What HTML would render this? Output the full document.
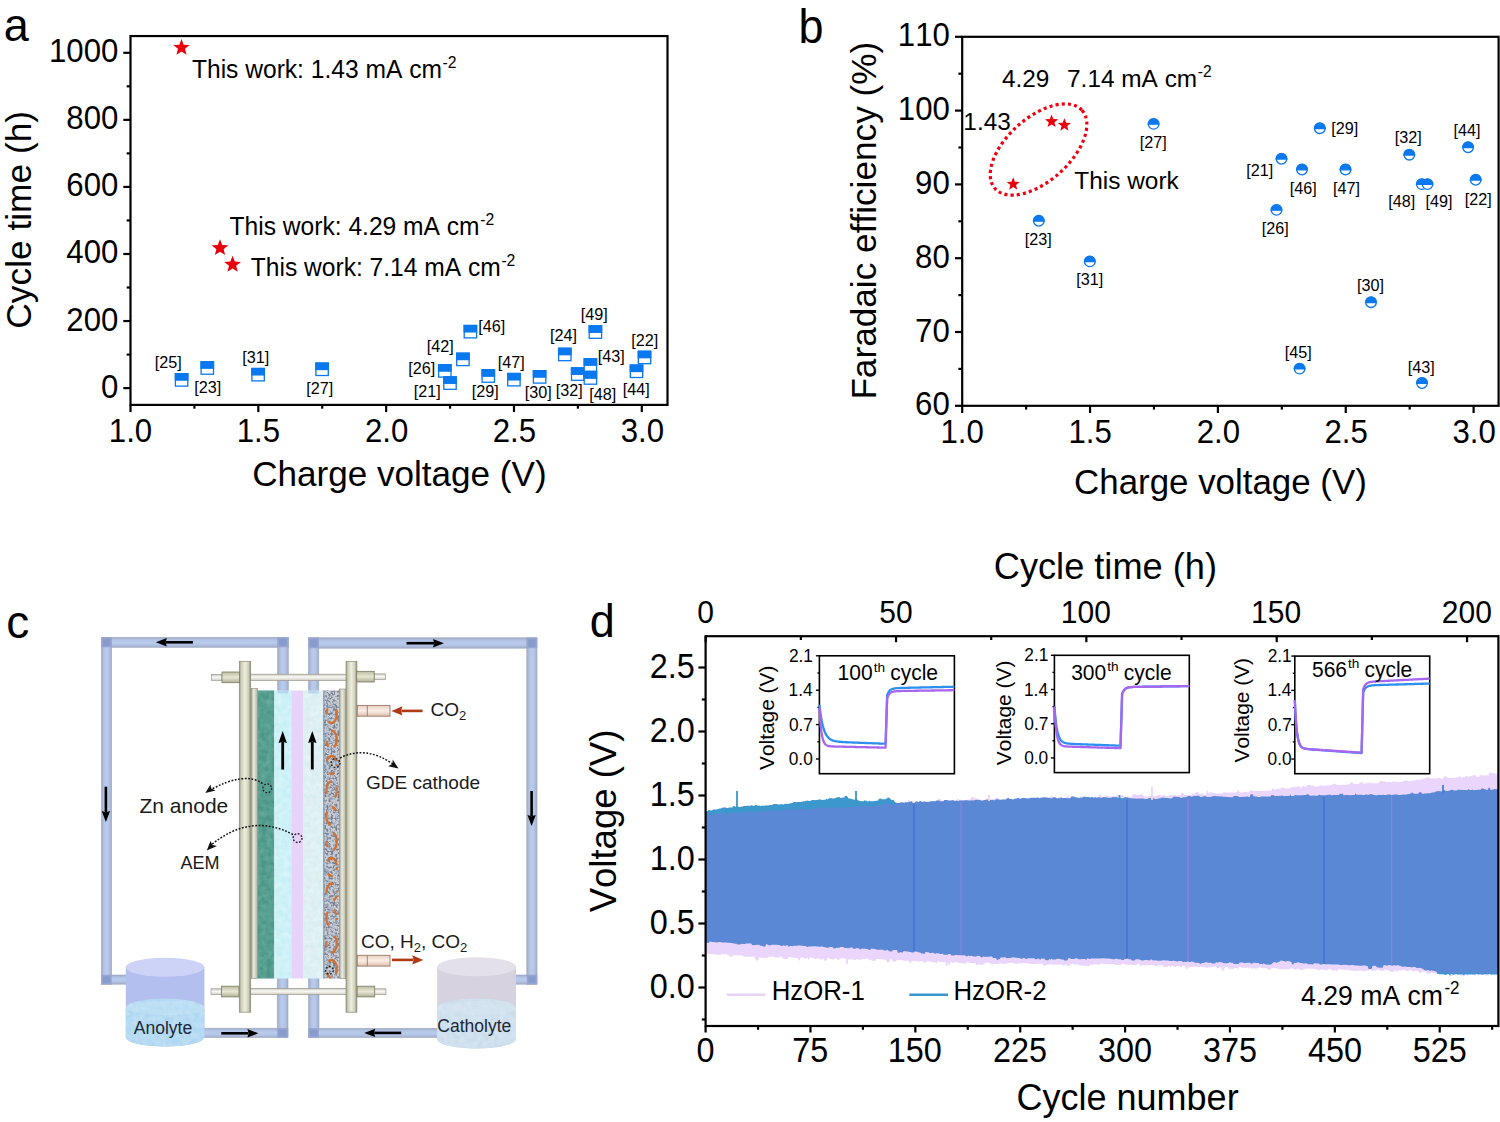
<!DOCTYPE html>
<html><head><meta charset="utf-8"><style>
html,body{margin:0;padding:0;background:#fff;overflow:hidden;}
svg{display:block;font-family:"Liberation Sans", sans-serif;font-kerning:none;}
</style></head><body>
<svg width="1500" height="1122" viewBox="0 0 1500 1122">
<rect width="1500" height="1122" fill="#fff"/>
<defs>
<linearGradient id="plate" x1="0" x2="1" y1="0" y2="0">
 <stop offset="0" stop-color="#9c9c86"/><stop offset="0.18" stop-color="#cfcfba"/><stop offset="0.5" stop-color="#eeeee0"/><stop offset="0.8" stop-color="#cfcfba"/><stop offset="1" stop-color="#8e8e78"/>
</linearGradient>
<linearGradient id="thin" x1="0" x2="1" y1="0" y2="0">
 <stop offset="0" stop-color="#a8a898"/><stop offset="0.4" stop-color="#ebebdf"/><stop offset="1" stop-color="#b5b5a2"/>
</linearGradient>
<linearGradient id="nut" x1="0" x2="0" y1="0" y2="1">
 <stop offset="0" stop-color="#bdbda5"/><stop offset="0.5" stop-color="#e6e6d2"/><stop offset="1" stop-color="#b0b098"/>
</linearGradient>
<linearGradient id="rod" x1="0" x2="0" y1="0" y2="1">
 <stop offset="0" stop-color="#c9c9c0"/><stop offset="0.45" stop-color="#fafaf5"/><stop offset="1" stop-color="#cfcfc5"/>
</linearGradient>
<linearGradient id="pipeH" x1="0" x2="0" y1="0" y2="1">
 <stop offset="0" stop-color="#a2adc6"/><stop offset="0.25" stop-color="#b2c2e4"/><stop offset="0.5" stop-color="#bacced"/><stop offset="0.75" stop-color="#b2c2e4"/><stop offset="1" stop-color="#a2adc6"/>
</linearGradient>
<linearGradient id="pipeV" x1="0" x2="1" y1="0" y2="0">
 <stop offset="0" stop-color="#a2adc6"/><stop offset="0.25" stop-color="#b2c2e4"/><stop offset="0.5" stop-color="#bacced"/><stop offset="0.75" stop-color="#b2c2e4"/><stop offset="1" stop-color="#a2adc6"/>
</linearGradient>
<linearGradient id="noz" x1="0" x2="0" y1="0" y2="1">
 <stop offset="0" stop-color="#e9cfc0"/><stop offset="0.5" stop-color="#fbeee6"/><stop offset="1" stop-color="#dcbfae"/>
</linearGradient>
<filter id="tex1" x="0" y="0" width="1" height="1">
 <feTurbulence type="fractalNoise" baseFrequency="0.18" numOctaves="2" seed="4" result="n"/>
 <feColorMatrix in="n" type="matrix" values="0 0 0 0 0  0 0 0 0 0  0 0 0 0 0  0 0 0 -1.3 1.0" result="a"/>
 <feComposite in="SourceGraphic" in2="a" operator="in"/>
</filter>
<filter id="speck" x="0" y="0" width="1" height="1">
 <feTurbulence type="fractalNoise" baseFrequency="0.45" numOctaves="2" seed="9" result="n"/>
 <feColorMatrix in="n" type="matrix" values="0 0 0 0 0  0 0 0 0 0  0 0 0 0 0  0 0 0 -4 2.3" result="a"/>
 <feComposite in="SourceGraphic" in2="a" operator="in"/>
</filter>
</defs>
<rect x="101.4" y="637.3" width="186.9" height="10.0" fill="url(#pipeH)" stroke="#9ea9c2" stroke-width="0.6"/>
<rect x="101.4" y="637.3" width="10.299999999999997" height="346.9000000000001" fill="url(#pipeV)" stroke="#9ea9c2" stroke-width="0.6"/>
<rect x="101.4" y="975" width="25.599999999999994" height="9.200000000000045" fill="url(#pipeH)" stroke="#9ea9c2" stroke-width="0.6"/>
<rect x="277.6" y="637.3" width="10.699999999999989" height="62.700000000000045" fill="url(#pipeV)" stroke="#9ea9c2" stroke-width="0.6"/>
<rect x="277.2" y="975" width="10.800000000000011" height="62.5" fill="url(#pipeV)" stroke="#9ea9c2" stroke-width="0.6"/>
<rect x="200" y="1028.2" width="88" height="9.299999999999955" fill="url(#pipeH)" stroke="#9ea9c2" stroke-width="0.6"/>
<rect x="101.4" y="637.3" width="10.3" height="10" fill="#95a6d2"/>
<rect x="102.9" y="638.8" width="7.300000000000001" height="7" fill="#8699ca" opacity="0.8"/>
<rect x="277.6" y="637.3" width="10.7" height="10" fill="#95a6d2"/>
<rect x="279.1" y="638.8" width="7.699999999999999" height="7" fill="#8699ca" opacity="0.8"/>
<rect x="101.4" y="975" width="10.3" height="9.2" fill="#95a6d2"/>
<rect x="102.9" y="976.5" width="7.300000000000001" height="6.199999999999999" fill="#8699ca" opacity="0.8"/>
<rect x="277.2" y="1028.2" width="10.8" height="9.3" fill="#95a6d2"/>
<rect x="278.7" y="1029.7" width="7.800000000000001" height="6.300000000000001" fill="#8699ca" opacity="0.8"/>
<rect x="308.5" y="637.8" width="228.5" height="10.400000000000091" fill="url(#pipeH)" stroke="#9ea9c2" stroke-width="0.6"/>
<rect x="526.8" y="637.8" width="10.200000000000045" height="346.4000000000001" fill="url(#pipeV)" stroke="#9ea9c2" stroke-width="0.6"/>
<rect x="512" y="975" width="25" height="9.200000000000045" fill="url(#pipeH)" stroke="#9ea9c2" stroke-width="0.6"/>
<rect x="308.5" y="637.8" width="10.300000000000011" height="62.200000000000045" fill="url(#pipeV)" stroke="#9ea9c2" stroke-width="0.6"/>
<rect x="308.5" y="975" width="10.5" height="62.5" fill="url(#pipeV)" stroke="#9ea9c2" stroke-width="0.6"/>
<rect x="308.5" y="1028.3" width="131.5" height="9.200000000000045" fill="url(#pipeH)" stroke="#9ea9c2" stroke-width="0.6"/>
<rect x="308.5" y="637.8" width="10.3" height="10.4" fill="#95a6d2"/>
<rect x="310.0" y="639.3" width="7.300000000000001" height="7.4" fill="#8699ca" opacity="0.8"/>
<rect x="526.8" y="637.8" width="10.2" height="10.4" fill="#95a6d2"/>
<rect x="528.3" y="639.3" width="7.199999999999999" height="7.4" fill="#8699ca" opacity="0.8"/>
<rect x="526.8" y="975" width="10.2" height="9.2" fill="#95a6d2"/>
<rect x="528.3" y="976.5" width="7.199999999999999" height="6.199999999999999" fill="#8699ca" opacity="0.8"/>
<rect x="308.5" y="1028.3" width="10.5" height="9.2" fill="#95a6d2"/>
<rect x="310.0" y="1029.8" width="7.5" height="6.199999999999999" fill="#8699ca" opacity="0.8"/>
<line x1="192.90" y1="642.30" x2="165.80" y2="642.30" stroke="#000" stroke-width="2.6"/>
<polygon points="155.80,642.30 166.80,638.10 165.60,642.30 166.80,646.50" fill="#000"/>
<line x1="105.90" y1="786.70" x2="105.90" y2="812.00" stroke="#000" stroke-width="2.6"/>
<polygon points="105.90,822.00 101.70,811.00 105.90,812.20 110.10,811.00" fill="#000"/>
<line x1="221.30" y1="1033.30" x2="248.40" y2="1033.30" stroke="#000" stroke-width="2.6"/>
<polygon points="258.40,1033.30 247.40,1037.50 248.60,1033.30 247.40,1029.10" fill="#000"/>
<line x1="406.50" y1="643.20" x2="434.00" y2="643.20" stroke="#000" stroke-width="2.6"/>
<polygon points="444.00,643.20 433.00,647.40 434.20,643.20 433.00,639.00" fill="#000"/>
<line x1="531.60" y1="791.00" x2="531.60" y2="816.00" stroke="#000" stroke-width="2.6"/>
<polygon points="531.60,826.00 527.40,815.00 531.60,816.20 535.80,815.00" fill="#000"/>
<line x1="401.20" y1="1032.90" x2="374.20" y2="1032.90" stroke="#000" stroke-width="2.6"/>
<polygon points="364.20,1032.90 375.20,1028.70 374.00,1032.90 375.20,1037.10" fill="#000"/>
<rect x="257.4" y="690.5" width="16.9" height="288.0" fill="#4a9587"/>
<rect x="257.4" y="690.5" width="16.9" height="288.0" fill="#8cc8b8" filter="url(#tex1)" opacity="0.55"/>
<rect x="274.3" y="690.5" width="17" height="288.0" fill="#c4eff5"/>
<rect x="274.3" y="690.5" width="17" height="288.0" fill="#eafafd" filter="url(#tex1)" opacity="0.7"/>
<rect x="291.3" y="690.5" width="12" height="288.0" fill="#e7d3fa"/>
<rect x="303.3" y="690.5" width="19.9" height="288.0" fill="#d8ecef"/>
<rect x="303.3" y="690.5" width="19.9" height="288.0" fill="#f2fbfc" filter="url(#tex1)" opacity="0.7"/>
<rect x="323.2" y="690.5" width="16.3" height="288.0" fill="#c9ced6"/>
<rect x="323.2" y="690.5" width="16.3" height="288.0" fill="#6f7889" filter="url(#speck)" opacity="0.9"/>
<rect x="323.2" y="690.5" width="1.4" height="288.0" fill="#8e9ab8" opacity="0.9"/>
<ellipse cx="331.6" cy="714.0" rx="5.2" ry="9" fill="none" stroke="#9fb4d0" stroke-width="1.3" opacity="0.6"/>
<ellipse cx="331.6" cy="714.0" rx="5.2" ry="9" fill="none" stroke="#d46a26" stroke-width="2.3" stroke-dasharray="15 7 6 12" stroke-dashoffset="0" opacity="0.9"/>
<ellipse cx="331.6" cy="739.5" rx="5.2" ry="9" fill="none" stroke="#9fb4d0" stroke-width="1.3" opacity="0.6"/>
<ellipse cx="331.6" cy="739.5" rx="5.2" ry="9" fill="none" stroke="#d46a26" stroke-width="2.3" stroke-dasharray="15 7 6 12" stroke-dashoffset="7" opacity="0.9"/>
<ellipse cx="331.6" cy="765.0" rx="5.2" ry="9" fill="none" stroke="#9fb4d0" stroke-width="1.3" opacity="0.6"/>
<ellipse cx="331.6" cy="765.0" rx="5.2" ry="9" fill="none" stroke="#d46a26" stroke-width="2.3" stroke-dasharray="15 7 6 12" stroke-dashoffset="14" opacity="0.9"/>
<ellipse cx="331.6" cy="790.5" rx="5.2" ry="9" fill="none" stroke="#9fb4d0" stroke-width="1.3" opacity="0.6"/>
<ellipse cx="331.6" cy="790.5" rx="5.2" ry="9" fill="none" stroke="#d46a26" stroke-width="2.3" stroke-dasharray="15 7 6 12" stroke-dashoffset="21" opacity="0.9"/>
<ellipse cx="331.6" cy="816.0" rx="5.2" ry="9" fill="none" stroke="#9fb4d0" stroke-width="1.3" opacity="0.6"/>
<ellipse cx="331.6" cy="816.0" rx="5.2" ry="9" fill="none" stroke="#d46a26" stroke-width="2.3" stroke-dasharray="15 7 6 12" stroke-dashoffset="28" opacity="0.9"/>
<ellipse cx="331.6" cy="841.5" rx="5.2" ry="9" fill="none" stroke="#9fb4d0" stroke-width="1.3" opacity="0.6"/>
<ellipse cx="331.6" cy="841.5" rx="5.2" ry="9" fill="none" stroke="#d46a26" stroke-width="2.3" stroke-dasharray="15 7 6 12" stroke-dashoffset="5" opacity="0.9"/>
<ellipse cx="331.6" cy="867.0" rx="5.2" ry="9" fill="none" stroke="#9fb4d0" stroke-width="1.3" opacity="0.6"/>
<ellipse cx="331.6" cy="867.0" rx="5.2" ry="9" fill="none" stroke="#d46a26" stroke-width="2.3" stroke-dasharray="15 7 6 12" stroke-dashoffset="12" opacity="0.9"/>
<ellipse cx="331.6" cy="892.5" rx="5.2" ry="9" fill="none" stroke="#9fb4d0" stroke-width="1.3" opacity="0.6"/>
<ellipse cx="331.6" cy="892.5" rx="5.2" ry="9" fill="none" stroke="#d46a26" stroke-width="2.3" stroke-dasharray="15 7 6 12" stroke-dashoffset="19" opacity="0.9"/>
<ellipse cx="331.6" cy="918.0" rx="5.2" ry="9" fill="none" stroke="#9fb4d0" stroke-width="1.3" opacity="0.6"/>
<ellipse cx="331.6" cy="918.0" rx="5.2" ry="9" fill="none" stroke="#d46a26" stroke-width="2.3" stroke-dasharray="15 7 6 12" stroke-dashoffset="26" opacity="0.9"/>
<ellipse cx="331.6" cy="943.5" rx="5.2" ry="9" fill="none" stroke="#9fb4d0" stroke-width="1.3" opacity="0.6"/>
<ellipse cx="331.6" cy="943.5" rx="5.2" ry="9" fill="none" stroke="#d46a26" stroke-width="2.3" stroke-dasharray="15 7 6 12" stroke-dashoffset="3" opacity="0.9"/>
<ellipse cx="331.6" cy="969.0" rx="5.2" ry="9" fill="none" stroke="#9fb4d0" stroke-width="1.3" opacity="0.6"/>
<ellipse cx="331.6" cy="969.0" rx="5.2" ry="9" fill="none" stroke="#d46a26" stroke-width="2.3" stroke-dasharray="15 7 6 12" stroke-dashoffset="10" opacity="0.9"/>
<rect x="277.6" y="690.5" width="10.7" height="3" fill="#a9c4e4" opacity="0.6"/>
<rect x="308.5" y="690.5" width="10.3" height="3" fill="#a9c4e4" opacity="0.6"/>
<rect x="251.2" y="688.4" width="6.2" height="290.1" fill="url(#thin)" stroke="#8c8c7c" stroke-width="0.6"/>
<rect x="339.5" y="689" width="6.4" height="289.5" fill="url(#thin)" stroke="#8c8c7c" stroke-width="0.6"/>
<rect x="250" y="674.2" width="97" height="6.2" fill="url(#rod)" stroke="#9a9a90" stroke-width="0.7"/>
<rect x="250" y="988.4" width="97" height="6.2" fill="url(#rod)" stroke="#9a9a90" stroke-width="0.7"/>
<rect x="239.3" y="661.3" width="11.4" height="350.9" fill="url(#plate)" stroke="#8a8a74" stroke-width="0.7"/>
<rect x="346" y="661.3" width="10.9" height="350.9" fill="url(#plate)" stroke="#8a8a74" stroke-width="0.7"/>
<rect x="211.3" y="674.6" width="10.699999999999989" height="5.8" fill="url(#rod)" stroke="#9a9a90" stroke-width="0.7"/>
<rect x="222" y="672.0" width="17.4" height="10.7" fill="url(#nut)" stroke="#7c7c64" stroke-width="0.8"/>
<rect x="211" y="988.8000000000001" width="10.5" height="5.8" fill="url(#rod)" stroke="#9a9a90" stroke-width="0.7"/>
<rect x="221.5" y="986.2" width="17.4" height="10.7" fill="url(#nut)" stroke="#7c7c64" stroke-width="0.8"/>
<rect x="374.2" y="673.9" width="11.2" height="5.8" fill="url(#rod)" stroke="#9a9a90" stroke-width="0.7"/>
<rect x="356.7" y="671.3" width="17.5" height="10.7" fill="url(#nut)" stroke="#7c7c64" stroke-width="0.8"/>
<rect x="374.7" y="988.8000000000001" width="11.2" height="5.8" fill="url(#rod)" stroke="#9a9a90" stroke-width="0.7"/>
<rect x="357.2" y="986.2" width="17.5" height="10.7" fill="url(#nut)" stroke="#7c7c64" stroke-width="0.8"/>
<rect x="357.3" y="705.4" width="32.7" height="10.8" fill="url(#noz)" stroke="#9c7a68" stroke-width="0.9"/>
<line x1="367.3" y1="705.4" x2="367.3" y2="716.1999999999999" stroke="#9c7a68" stroke-width="0.9"/>
<rect x="357.3" y="955.3" width="32.7" height="10.8" fill="url(#noz)" stroke="#9c7a68" stroke-width="0.9"/>
<line x1="367.3" y1="955.3" x2="367.3" y2="966.0999999999999" stroke="#9c7a68" stroke-width="0.9"/>
<line x1="422.60" y1="710.90" x2="401.40" y2="710.90" stroke="#b03a14" stroke-width="2.6"/>
<polygon points="391.40,710.90 402.40,706.30 401.20,710.90 402.40,715.50" fill="#b03a14"/>
<line x1="392.00" y1="959.90" x2="413.30" y2="959.90" stroke="#b03a14" stroke-width="2.6"/>
<polygon points="423.30,959.90 412.30,964.50 413.50,959.90 412.30,955.30" fill="#b03a14"/>
<line x1="282.70" y1="769.50" x2="282.70" y2="742.00" stroke="#000" stroke-width="2.8"/>
<polygon points="282.70,731.00 286.90,743.00 282.70,741.80 278.50,743.00" fill="#000"/>
<line x1="312.30" y1="769.50" x2="312.30" y2="742.00" stroke="#000" stroke-width="2.8"/>
<polygon points="312.30,731.00 316.50,743.00 312.30,741.80 308.10,743.00" fill="#000"/>
<circle cx="267.2" cy="788.3" r="4.4" fill="none" stroke="#222" stroke-width="1.4" stroke-dasharray="1.8 1.6"/>
<path d="M262.5,783.5 Q245,771 210,790" fill="none" stroke="#111" stroke-width="1.5" stroke-dasharray="1.8 1.6"/>
<polygon points="205.3,793 210.5,784.5 211.2,788.6 215.6,790.4" fill="#111"/>
<circle cx="297.6" cy="838.1" r="4.4" fill="none" stroke="#222" stroke-width="1.4" stroke-dasharray="1.8 1.6"/>
<path d="M293,834.5 Q250,812 210,846" fill="none" stroke="#111" stroke-width="1.5" stroke-dasharray="1.8 1.6"/>
<polygon points="206.8,850.5 210.5,841 212.4,845 217,846" fill="#111"/>
<circle cx="335.5" cy="763" r="4.4" fill="none" stroke="#222" stroke-width="1.4" stroke-dasharray="1.8 1.6"/>
<path d="M340,758 Q365,745 393,764" fill="none" stroke="#111" stroke-width="1.5" stroke-dasharray="1.8 1.6"/>
<polygon points="398.5,768.5 388.3,766.2 392.6,763.8 392.6,759.4" fill="#111"/>
<circle cx="329.4" cy="970.3" r="3.8" fill="none" stroke="#222" stroke-width="1.4" stroke-dasharray="1.8 1.6"/>
<text x="139.5" y="812.8" font-size="21" fill="#1a1a1a">Zn anode</text>
<text x="180.5" y="868.8" font-size="18" fill="#1a1a1a">AEM</text>
<text x="366" y="789.3" font-size="19" fill="#1a1a1a">GDE cathode</text>
<text x="430.5" y="716.2" font-size="19" fill="#1a1a1a">CO<tspan font-size="13" dy="4">2</tspan></text>
<text x="361" y="948.3" font-size="19" fill="#1a1a1a">CO, H<tspan font-size="13" dy="4">2</tspan><tspan dy="-4">, CO</tspan><tspan font-size="13" dy="4">2</tspan></text>
<text x="6.2" y="638" font-size="46" fill="#000">c</text>
<path d="M125.8,967.2 L125.8,1037 A39.300000000000004,9.5 0 0 0 204.4,1037 L204.4,967.2 Z" fill="#b3bfee"/>
<path d="M125.8,1008 L125.8,1037 A39.300000000000004,9.5 0 0 0 204.4,1037 L204.4,1008 A39.300000000000004,9.5 0 0 0 125.8,1008 Z" fill="#acd6f1"/>
<path d="M125.8,1008 L125.8,1037 A39.300000000000004,9.5 0 0 0 204.4,1037 L204.4,1008 A39.300000000000004,9.5 0 0 0 125.8,1008 Z" fill="#ffffff" filter="url(#tex1)" opacity="0.35"/>
<ellipse cx="165.1" cy="1008" rx="39.300000000000004" ry="7.125" fill="#c6e4f6" opacity="0.45"/>
<ellipse cx="165.1" cy="967.2" rx="39.300000000000004" ry="9.5" fill="#cdd3f6"/>
<text x="133.8" y="1033.7" font-size="17.5" fill="#1c2838">Anolyte</text>
<path d="M437.2,966.8 L437.2,1039 A39.400000000000006,9.5 0 0 0 516,1039 L516,966.8 Z" fill="#d6d2df"/>
<path d="M437.2,1008 L437.2,1039 A39.400000000000006,9.5 0 0 0 516,1039 L516,1008 A39.400000000000006,9.5 0 0 0 437.2,1008 Z" fill="#c9dcec"/>
<path d="M437.2,1008 L437.2,1039 A39.400000000000006,9.5 0 0 0 516,1039 L516,1008 A39.400000000000006,9.5 0 0 0 437.2,1008 Z" fill="#ffffff" filter="url(#tex1)" opacity="0.35"/>
<ellipse cx="476.6" cy="1008" rx="39.400000000000006" ry="7.125" fill="#d6e6f2" opacity="0.45"/>
<ellipse cx="476.6" cy="966.8" rx="39.400000000000006" ry="9.5" fill="#e3e0ea"/>
<text x="437.3" y="1031.7" font-size="17.5" fill="#1c2838">Catholyte</text>
<text transform="translate(3.69,41.10) scale(1,1.01)" font-size="45" text-anchor="start" fill="#000" >a</text>
<rect x="130.5" y="36.05" width="537.0" height="368.84999999999997" fill="none" stroke="#000" stroke-width="2.2"/>
<line x1="123.30" y1="388.10" x2="130.50" y2="388.10" stroke="#000" stroke-width="2.2" />
<text transform="translate(118.32,397.60) scale(1,1.045)" font-size="31.2" text-anchor="end" fill="#000" >0</text>
<line x1="126.70" y1="354.57" x2="130.50" y2="354.57" stroke="#000" stroke-width="2.2" />
<line x1="123.30" y1="321.04" x2="130.50" y2="321.04" stroke="#000" stroke-width="2.2" />
<text transform="translate(118.32,330.54) scale(1,1.045)" font-size="31.2" text-anchor="end" fill="#000" >200</text>
<line x1="126.70" y1="287.51" x2="130.50" y2="287.51" stroke="#000" stroke-width="2.2" />
<line x1="123.30" y1="253.98" x2="130.50" y2="253.98" stroke="#000" stroke-width="2.2" />
<text transform="translate(118.32,263.48) scale(1,1.045)" font-size="31.2" text-anchor="end" fill="#000" >400</text>
<line x1="126.70" y1="220.45" x2="130.50" y2="220.45" stroke="#000" stroke-width="2.2" />
<line x1="123.30" y1="186.92" x2="130.50" y2="186.92" stroke="#000" stroke-width="2.2" />
<text transform="translate(118.32,196.42) scale(1,1.045)" font-size="31.2" text-anchor="end" fill="#000" >600</text>
<line x1="126.70" y1="153.39" x2="130.50" y2="153.39" stroke="#000" stroke-width="2.2" />
<line x1="123.30" y1="119.86" x2="130.50" y2="119.86" stroke="#000" stroke-width="2.2" />
<text transform="translate(118.32,129.36) scale(1,1.045)" font-size="31.2" text-anchor="end" fill="#000" >800</text>
<line x1="126.70" y1="86.33" x2="130.50" y2="86.33" stroke="#000" stroke-width="2.2" />
<line x1="123.30" y1="52.80" x2="130.50" y2="52.80" stroke="#000" stroke-width="2.2" />
<text transform="translate(118.32,62.30) scale(1,1.045)" font-size="31.2" text-anchor="end" fill="#000" >1000</text>
<line x1="130.50" y1="404.90" x2="130.50" y2="412.10" stroke="#000" stroke-width="2.2" />
<text transform="translate(108.83,441.70) scale(1,1.045)" font-size="31.2" text-anchor="start" fill="#000" >1.0</text>
<line x1="194.41" y1="404.90" x2="194.41" y2="408.70" stroke="#000" stroke-width="2.2" />
<line x1="258.32" y1="404.90" x2="258.32" y2="412.10" stroke="#000" stroke-width="2.2" />
<text transform="translate(236.71,441.70) scale(1,1.045)" font-size="31.2" text-anchor="start" fill="#000" >1.5</text>
<line x1="322.24" y1="404.90" x2="322.24" y2="408.70" stroke="#000" stroke-width="2.2" />
<line x1="386.15" y1="404.90" x2="386.15" y2="412.10" stroke="#000" stroke-width="2.2" />
<text transform="translate(364.89,441.70) scale(1,1.045)" font-size="31.2" text-anchor="start" fill="#000" >2.0</text>
<line x1="450.06" y1="404.90" x2="450.06" y2="408.70" stroke="#000" stroke-width="2.2" />
<line x1="513.98" y1="404.90" x2="513.98" y2="412.10" stroke="#000" stroke-width="2.2" />
<text transform="translate(492.76,441.70) scale(1,1.045)" font-size="31.2" text-anchor="start" fill="#000" >2.5</text>
<line x1="577.89" y1="404.90" x2="577.89" y2="408.70" stroke="#000" stroke-width="2.2" />
<line x1="641.80" y1="404.90" x2="641.80" y2="412.10" stroke="#000" stroke-width="2.2" />
<text transform="translate(620.73,441.70) scale(1,1.045)" font-size="31.2" text-anchor="start" fill="#000" >3.0</text>
<text transform="translate(252.20,486.30)" font-size="35.1" text-anchor="start" fill="#000" >Charge voltage (V)</text>
<text transform="translate(30.60,219.80) rotate(-90)" font-size="35.3" text-anchor="middle" fill="#000" >Cycle time (h)</text>
<rect x="175.40" y="373.70" width="12.40" height="12.40" fill="#fff" stroke="#0a78ee" stroke-width="1.3"/>
<rect x="175.40" y="373.70" width="12.40" height="6.40" fill="#0a78ee" stroke="#0a78ee" stroke-width="1.3"/>
<rect x="201.10" y="361.80" width="12.40" height="12.40" fill="#fff" stroke="#0a78ee" stroke-width="1.3"/>
<rect x="201.10" y="361.80" width="12.40" height="6.40" fill="#0a78ee" stroke="#0a78ee" stroke-width="1.3"/>
<rect x="251.90" y="368.50" width="12.40" height="12.40" fill="#fff" stroke="#0a78ee" stroke-width="1.3"/>
<rect x="251.90" y="368.50" width="12.40" height="6.40" fill="#0a78ee" stroke="#0a78ee" stroke-width="1.3"/>
<rect x="315.90" y="363.10" width="12.40" height="12.40" fill="#fff" stroke="#0a78ee" stroke-width="1.3"/>
<rect x="315.90" y="363.10" width="12.40" height="6.40" fill="#0a78ee" stroke="#0a78ee" stroke-width="1.3"/>
<rect x="438.60" y="364.70" width="12.40" height="12.40" fill="#fff" stroke="#0a78ee" stroke-width="1.3"/>
<rect x="438.60" y="364.70" width="12.40" height="6.40" fill="#0a78ee" stroke="#0a78ee" stroke-width="1.3"/>
<rect x="443.80" y="376.90" width="12.40" height="12.40" fill="#fff" stroke="#0a78ee" stroke-width="1.3"/>
<rect x="443.80" y="376.90" width="12.40" height="6.40" fill="#0a78ee" stroke="#0a78ee" stroke-width="1.3"/>
<rect x="456.70" y="353.20" width="12.40" height="12.40" fill="#fff" stroke="#0a78ee" stroke-width="1.3"/>
<rect x="456.70" y="353.20" width="12.40" height="6.40" fill="#0a78ee" stroke="#0a78ee" stroke-width="1.3"/>
<rect x="464.20" y="325.50" width="12.40" height="12.40" fill="#fff" stroke="#0a78ee" stroke-width="1.3"/>
<rect x="464.20" y="325.50" width="12.40" height="6.40" fill="#0a78ee" stroke="#0a78ee" stroke-width="1.3"/>
<rect x="482.10" y="369.80" width="12.40" height="12.40" fill="#fff" stroke="#0a78ee" stroke-width="1.3"/>
<rect x="482.10" y="369.80" width="12.40" height="6.40" fill="#0a78ee" stroke="#0a78ee" stroke-width="1.3"/>
<rect x="507.70" y="373.50" width="12.40" height="12.40" fill="#fff" stroke="#0a78ee" stroke-width="1.3"/>
<rect x="507.70" y="373.50" width="12.40" height="6.40" fill="#0a78ee" stroke="#0a78ee" stroke-width="1.3"/>
<rect x="533.40" y="370.70" width="12.40" height="12.40" fill="#fff" stroke="#0a78ee" stroke-width="1.3"/>
<rect x="533.40" y="370.70" width="12.40" height="6.40" fill="#0a78ee" stroke="#0a78ee" stroke-width="1.3"/>
<rect x="558.60" y="348.30" width="12.40" height="12.40" fill="#fff" stroke="#0a78ee" stroke-width="1.3"/>
<rect x="558.60" y="348.30" width="12.40" height="6.40" fill="#0a78ee" stroke="#0a78ee" stroke-width="1.3"/>
<rect x="571.50" y="367.90" width="12.40" height="12.40" fill="#fff" stroke="#0a78ee" stroke-width="1.3"/>
<rect x="571.50" y="367.90" width="12.40" height="6.40" fill="#0a78ee" stroke="#0a78ee" stroke-width="1.3"/>
<rect x="584.20" y="358.80" width="12.40" height="12.40" fill="#fff" stroke="#0a78ee" stroke-width="1.3"/>
<rect x="584.20" y="358.80" width="12.40" height="6.40" fill="#0a78ee" stroke="#0a78ee" stroke-width="1.3"/>
<rect x="584.20" y="371.80" width="12.40" height="12.40" fill="#fff" stroke="#0a78ee" stroke-width="1.3"/>
<rect x="584.20" y="371.80" width="12.40" height="6.40" fill="#0a78ee" stroke="#0a78ee" stroke-width="1.3"/>
<rect x="589.20" y="325.90" width="12.40" height="12.40" fill="#fff" stroke="#0a78ee" stroke-width="1.3"/>
<rect x="589.20" y="325.90" width="12.40" height="6.40" fill="#0a78ee" stroke="#0a78ee" stroke-width="1.3"/>
<rect x="630.30" y="365.10" width="12.40" height="12.40" fill="#fff" stroke="#0a78ee" stroke-width="1.3"/>
<rect x="630.30" y="365.10" width="12.40" height="6.40" fill="#0a78ee" stroke="#0a78ee" stroke-width="1.3"/>
<rect x="638.30" y="351.30" width="12.40" height="12.40" fill="#fff" stroke="#0a78ee" stroke-width="1.3"/>
<rect x="638.30" y="351.30" width="12.40" height="6.40" fill="#0a78ee" stroke="#0a78ee" stroke-width="1.3"/>
<text transform="translate(154.85,367.50) scale(1,1.045)" font-size="16.2" text-anchor="start" fill="#000" >[25]</text>
<text transform="translate(194.35,392.50) scale(1,1.045)" font-size="16.2" text-anchor="start" fill="#000" >[23]</text>
<text transform="translate(242.35,362.70) scale(1,1.045)" font-size="16.2" text-anchor="start" fill="#000" >[31]</text>
<text transform="translate(306.35,394.10) scale(1,1.045)" font-size="16.2" text-anchor="start" fill="#000" >[27]</text>
<text transform="translate(408.15,373.70) scale(1,1.045)" font-size="16.2" text-anchor="start" fill="#000" >[26]</text>
<text transform="translate(413.85,397.00) scale(1,1.045)" font-size="16.2" text-anchor="start" fill="#000" >[21]</text>
<text transform="translate(426.85,352.30) scale(1,1.045)" font-size="16.2" text-anchor="start" fill="#000" >[42]</text>
<text transform="translate(478.15,332.10) scale(1,1.045)" font-size="16.2" text-anchor="start" fill="#000" >[46]</text>
<text transform="translate(471.65,397.40) scale(1,1.045)" font-size="16.2" text-anchor="start" fill="#000" >[29]</text>
<text transform="translate(497.75,368.10) scale(1,1.045)" font-size="16.2" text-anchor="start" fill="#000" >[47]</text>
<text transform="translate(524.85,398.00) scale(1,1.045)" font-size="16.2" text-anchor="start" fill="#000" >[30]</text>
<text transform="translate(550.05,341.10) scale(1,1.045)" font-size="16.2" text-anchor="start" fill="#000" >[24]</text>
<text transform="translate(555.65,396.10) scale(1,1.045)" font-size="16.2" text-anchor="start" fill="#000" >[32]</text>
<text transform="translate(597.65,361.60) scale(1,1.045)" font-size="16.2" text-anchor="start" fill="#000" >[43]</text>
<text transform="translate(589.25,399.90) scale(1,1.045)" font-size="16.2" text-anchor="start" fill="#000" >[48]</text>
<text transform="translate(580.85,319.60) scale(1,1.045)" font-size="16.2" text-anchor="start" fill="#000" >[49]</text>
<text transform="translate(622.85,395.20) scale(1,1.045)" font-size="16.2" text-anchor="start" fill="#000" >[44]</text>
<text transform="translate(631.25,345.70) scale(1,1.045)" font-size="16.2" text-anchor="start" fill="#000" >[22]</text>
<polygon points="181.50,39.10 183.67,44.71 189.68,45.04 185.02,48.84 186.55,54.66 181.50,51.40 176.45,54.66 177.98,48.84 173.32,45.04 179.33,44.71" fill="#e8000c"/>
<polygon points="220.00,239.20 222.22,244.94 228.37,245.28 223.60,249.17 225.17,255.12 220.00,251.78 214.83,255.12 216.40,249.17 211.63,245.28 217.78,244.94" fill="#e8000c"/>
<polygon points="232.60,255.80 234.82,261.54 240.97,261.88 236.20,265.77 237.77,271.72 232.60,268.38 227.43,271.72 229.00,265.77 224.23,261.88 230.38,261.54" fill="#e8000c"/>
<text transform="translate(191.95,78.00) scale(1,1.04)" font-size="24.6">This work: 1.43 mA cm</text>
<text transform="translate(442.60,68.16) scale(1,1.04)" font-size="15.7">-2</text>
<text transform="translate(229.55,234.70) scale(1,1.04)" font-size="24.6">This work: 4.29 mA cm</text>
<text transform="translate(480.20,224.86) scale(1,1.04)" font-size="15.7">-2</text>
<text transform="translate(250.75,275.60) scale(1,1.04)" font-size="24.6">This work: 7.14 mA cm</text>
<text transform="translate(501.40,265.76) scale(1,1.04)" font-size="15.7">-2</text>
<text transform="translate(798.60,43.00) scale(1,1.07)" font-size="45" text-anchor="start" fill="#000" >b</text>
<rect x="962.2" y="36.8" width="536.3999999999999" height="369.0" fill="none" stroke="#000" stroke-width="2.2"/>
<line x1="955.00" y1="405.80" x2="962.20" y2="405.80" stroke="#000" stroke-width="2.2" />
<text transform="translate(949.82,415.30) scale(1,1.045)" font-size="31.2" text-anchor="end" fill="#000" >60</text>
<line x1="958.40" y1="368.90" x2="962.20" y2="368.90" stroke="#000" stroke-width="2.2" />
<line x1="955.00" y1="332.00" x2="962.20" y2="332.00" stroke="#000" stroke-width="2.2" />
<text transform="translate(949.82,341.50) scale(1,1.045)" font-size="31.2" text-anchor="end" fill="#000" >70</text>
<line x1="958.40" y1="295.10" x2="962.20" y2="295.10" stroke="#000" stroke-width="2.2" />
<line x1="955.00" y1="258.20" x2="962.20" y2="258.20" stroke="#000" stroke-width="2.2" />
<text transform="translate(949.82,267.70) scale(1,1.045)" font-size="31.2" text-anchor="end" fill="#000" >80</text>
<line x1="958.40" y1="221.30" x2="962.20" y2="221.30" stroke="#000" stroke-width="2.2" />
<line x1="955.00" y1="184.40" x2="962.20" y2="184.40" stroke="#000" stroke-width="2.2" />
<text transform="translate(949.82,193.90) scale(1,1.045)" font-size="31.2" text-anchor="end" fill="#000" >90</text>
<line x1="958.40" y1="147.50" x2="962.20" y2="147.50" stroke="#000" stroke-width="2.2" />
<line x1="955.00" y1="110.60" x2="962.20" y2="110.60" stroke="#000" stroke-width="2.2" />
<text transform="translate(949.82,120.10) scale(1,1.045)" font-size="31.2" text-anchor="end" fill="#000" >100</text>
<line x1="958.40" y1="73.70" x2="962.20" y2="73.70" stroke="#000" stroke-width="2.2" />
<line x1="955.00" y1="36.80" x2="962.20" y2="36.80" stroke="#000" stroke-width="2.2" />
<text transform="translate(949.82,46.30) scale(1,1.045)" font-size="31.2" text-anchor="end" fill="#000" >110</text>
<line x1="962.20" y1="405.80" x2="962.20" y2="413.00" stroke="#000" stroke-width="2.2" />
<text transform="translate(940.53,442.60) scale(1,1.045)" font-size="31.2" text-anchor="start" fill="#000" >1.0</text>
<line x1="1026.12" y1="405.80" x2="1026.12" y2="409.60" stroke="#000" stroke-width="2.2" />
<line x1="1090.05" y1="405.80" x2="1090.05" y2="413.00" stroke="#000" stroke-width="2.2" />
<text transform="translate(1068.43,442.60) scale(1,1.045)" font-size="31.2" text-anchor="start" fill="#000" >1.5</text>
<line x1="1153.97" y1="405.80" x2="1153.97" y2="409.60" stroke="#000" stroke-width="2.2" />
<line x1="1217.90" y1="405.80" x2="1217.90" y2="413.00" stroke="#000" stroke-width="2.2" />
<text transform="translate(1196.64,442.60) scale(1,1.045)" font-size="31.2" text-anchor="start" fill="#000" >2.0</text>
<line x1="1281.83" y1="405.80" x2="1281.83" y2="409.60" stroke="#000" stroke-width="2.2" />
<line x1="1345.75" y1="405.80" x2="1345.75" y2="413.00" stroke="#000" stroke-width="2.2" />
<text transform="translate(1324.53,442.60) scale(1,1.045)" font-size="31.2" text-anchor="start" fill="#000" >2.5</text>
<line x1="1409.67" y1="405.80" x2="1409.67" y2="409.60" stroke="#000" stroke-width="2.2" />
<line x1="1473.60" y1="405.80" x2="1473.60" y2="413.00" stroke="#000" stroke-width="2.2" />
<text transform="translate(1452.53,442.60) scale(1,1.045)" font-size="31.2" text-anchor="start" fill="#000" >3.0</text>
<text transform="translate(1074.04,493.50)" font-size="34.9" text-anchor="start" fill="#000" >Charge voltage (V)</text>
<text transform="translate(876.00,220.70) rotate(-90)" font-size="35.2" text-anchor="middle" fill="#000" >Faradaic efficiency (%)</text>
<circle cx="1153.60" cy="123.90" r="5.3" fill="#fff" stroke="#0a78ee" stroke-width="1.3"/>
<path d="M1148.30,124.20 A5.3,5.3 0 0 1 1158.90,124.20 Z" fill="#0a78ee" stroke="#0a78ee" stroke-width="1.3"/>
<circle cx="1038.80" cy="220.80" r="5.3" fill="#fff" stroke="#0a78ee" stroke-width="1.3"/>
<path d="M1033.50,221.10 A5.3,5.3 0 0 1 1044.10,221.10 Z" fill="#0a78ee" stroke="#0a78ee" stroke-width="1.3"/>
<circle cx="1089.80" cy="261.40" r="5.3" fill="#fff" stroke="#0a78ee" stroke-width="1.3"/>
<path d="M1084.50,261.70 A5.3,5.3 0 0 1 1095.10,261.70 Z" fill="#0a78ee" stroke="#0a78ee" stroke-width="1.3"/>
<circle cx="1319.80" cy="128.20" r="5.3" fill="#fff" stroke="#0a78ee" stroke-width="1.3"/>
<path d="M1314.50,128.50 A5.3,5.3 0 0 1 1325.10,128.50 Z" fill="#0a78ee" stroke="#0a78ee" stroke-width="1.3"/>
<circle cx="1281.50" cy="158.80" r="5.3" fill="#fff" stroke="#0a78ee" stroke-width="1.3"/>
<path d="M1276.20,159.10 A5.3,5.3 0 0 1 1286.80,159.10 Z" fill="#0a78ee" stroke="#0a78ee" stroke-width="1.3"/>
<circle cx="1302.00" cy="169.50" r="5.3" fill="#fff" stroke="#0a78ee" stroke-width="1.3"/>
<path d="M1296.70,169.80 A5.3,5.3 0 0 1 1307.30,169.80 Z" fill="#0a78ee" stroke="#0a78ee" stroke-width="1.3"/>
<circle cx="1345.50" cy="169.50" r="5.3" fill="#fff" stroke="#0a78ee" stroke-width="1.3"/>
<path d="M1340.20,169.80 A5.3,5.3 0 0 1 1350.80,169.80 Z" fill="#0a78ee" stroke="#0a78ee" stroke-width="1.3"/>
<circle cx="1276.50" cy="209.90" r="5.3" fill="#fff" stroke="#0a78ee" stroke-width="1.3"/>
<path d="M1271.20,210.20 A5.3,5.3 0 0 1 1281.80,210.20 Z" fill="#0a78ee" stroke="#0a78ee" stroke-width="1.3"/>
<circle cx="1409.30" cy="154.70" r="5.3" fill="#fff" stroke="#0a78ee" stroke-width="1.3"/>
<path d="M1404.00,155.00 A5.3,5.3 0 0 1 1414.60,155.00 Z" fill="#0a78ee" stroke="#0a78ee" stroke-width="1.3"/>
<circle cx="1468.10" cy="147.20" r="5.3" fill="#fff" stroke="#0a78ee" stroke-width="1.3"/>
<path d="M1462.80,147.50 A5.3,5.3 0 0 1 1473.40,147.50 Z" fill="#0a78ee" stroke="#0a78ee" stroke-width="1.3"/>
<circle cx="1421.80" cy="184.10" r="5.3" fill="#fff" stroke="#0a78ee" stroke-width="1.3"/>
<path d="M1416.50,184.40 A5.3,5.3 0 0 1 1427.10,184.40 Z" fill="#0a78ee" stroke="#0a78ee" stroke-width="1.3"/>
<circle cx="1427.50" cy="184.10" r="5.3" fill="#fff" stroke="#0a78ee" stroke-width="1.3"/>
<path d="M1422.20,184.40 A5.3,5.3 0 0 1 1432.80,184.40 Z" fill="#0a78ee" stroke="#0a78ee" stroke-width="1.3"/>
<circle cx="1475.70" cy="179.80" r="5.3" fill="#fff" stroke="#0a78ee" stroke-width="1.3"/>
<path d="M1470.40,180.10 A5.3,5.3 0 0 1 1481.00,180.10 Z" fill="#0a78ee" stroke="#0a78ee" stroke-width="1.3"/>
<circle cx="1371.00" cy="302.20" r="5.3" fill="#fff" stroke="#0a78ee" stroke-width="1.3"/>
<path d="M1365.70,302.50 A5.3,5.3 0 0 1 1376.30,302.50 Z" fill="#0a78ee" stroke="#0a78ee" stroke-width="1.3"/>
<circle cx="1299.60" cy="368.60" r="5.3" fill="#fff" stroke="#0a78ee" stroke-width="1.3"/>
<path d="M1294.30,368.90 A5.3,5.3 0 0 1 1304.90,368.90 Z" fill="#0a78ee" stroke="#0a78ee" stroke-width="1.3"/>
<circle cx="1422.00" cy="383.00" r="5.3" fill="#fff" stroke="#0a78ee" stroke-width="1.3"/>
<path d="M1416.70,383.30 A5.3,5.3 0 0 1 1427.30,383.30 Z" fill="#0a78ee" stroke="#0a78ee" stroke-width="1.3"/>
<text transform="translate(1139.65,147.80) scale(1,1.045)" font-size="16.2" text-anchor="start" fill="#000" >[27]</text>
<text transform="translate(1024.85,245.10) scale(1,1.045)" font-size="16.2" text-anchor="start" fill="#000" >[23]</text>
<text transform="translate(1076.35,285.30) scale(1,1.045)" font-size="16.2" text-anchor="start" fill="#000" >[31]</text>
<text transform="translate(1331.15,133.90) scale(1,1.045)" font-size="16.2" text-anchor="start" fill="#000" >[29]</text>
<text transform="translate(1246.35,175.70) scale(1,1.045)" font-size="16.2" text-anchor="start" fill="#000" >[21]</text>
<text transform="translate(1289.65,193.60) scale(1,1.045)" font-size="16.2" text-anchor="start" fill="#000" >[46]</text>
<text transform="translate(1332.95,193.60) scale(1,1.045)" font-size="16.2" text-anchor="start" fill="#000" >[47]</text>
<text transform="translate(1261.65,233.60) scale(1,1.045)" font-size="16.2" text-anchor="start" fill="#000" >[26]</text>
<text transform="translate(1394.75,142.80) scale(1,1.045)" font-size="16.2" text-anchor="start" fill="#000" >[32]</text>
<text transform="translate(1453.55,135.60) scale(1,1.045)" font-size="16.2" text-anchor="start" fill="#000" >[44]</text>
<text transform="translate(1388.15,206.90) scale(1,1.045)" font-size="16.2" text-anchor="start" fill="#000" >[48]</text>
<text transform="translate(1425.45,206.90) scale(1,1.045)" font-size="16.2" text-anchor="start" fill="#000" >[49]</text>
<text transform="translate(1464.85,205.10) scale(1,1.045)" font-size="16.2" text-anchor="start" fill="#000" >[22]</text>
<text transform="translate(1357.05,291.00) scale(1,1.045)" font-size="16.2" text-anchor="start" fill="#000" >[30]</text>
<text transform="translate(1284.65,357.60) scale(1,1.045)" font-size="16.2" text-anchor="start" fill="#000" >[45]</text>
<text transform="translate(1407.85,372.60) scale(1,1.045)" font-size="16.2" text-anchor="start" fill="#000" >[43]</text>
<ellipse cx="1038.55" cy="149.5" rx="58.5" ry="31.5" transform="rotate(-42 1038.55 149.5)" fill="none" stroke="#ee0010" stroke-width="3.2" stroke-dasharray="3.1 3.1"/>
<polygon points="1013.20,177.20 1014.94,181.70 1019.76,181.97 1016.02,185.02 1017.26,189.68 1013.20,187.07 1009.14,189.68 1010.38,185.02 1006.64,181.97 1011.46,181.70" fill="#e8000c"/>
<polygon points="1051.60,114.60 1053.34,119.10 1058.16,119.37 1054.42,122.42 1055.66,127.08 1051.60,124.47 1047.54,127.08 1048.78,122.42 1045.04,119.37 1049.86,119.10" fill="#e8000c"/>
<polygon points="1064.40,118.20 1066.14,122.70 1070.96,122.97 1067.22,126.02 1068.46,130.68 1064.40,128.07 1060.34,130.68 1061.58,126.02 1057.84,122.97 1062.66,122.70" fill="#e8000c"/>
<text transform="translate(963.34,130.20)" font-size="24.4" text-anchor="start" fill="#000" >1.43</text>
<text transform="translate(1001.94,86.90)" font-size="24.4" text-anchor="start" fill="#000" >4.29</text>
<text transform="translate(1067.05,86.90)" font-size="24.4" text-anchor="start" fill="#000" >7.14</text>
<text transform="translate(1121.28,86.90)" font-size="24.4" text-anchor="start" fill="#000" >mA cm</text>
<text transform="translate(1197.81,77.00)" font-size="15.6" text-anchor="start" fill="#000" >-2</text>
<text transform="translate(1074.35,189.10) scale(1,1.01)" font-size="24.4" text-anchor="start" fill="#000" >This work</text>
<text transform="translate(589.71,637.40) scale(1,1.043)" font-size="45" text-anchor="start" fill="#000" >d</text>
<clipPath id="dclip"><rect x="705.6" y="636.2" width="792.8000000000001" height="389.79999999999995"/></clipPath>
<g clip-path="url(#dclip)">
<polygon points="705.6,814.6 706.6,814.2 707.6,814.6 708.6,814.3 709.6,814.2 710.6,813.3 711.5,814.3 712.5,814.3 713.5,813.3 714.5,813.7 715.5,813.7 716.5,813.1 717.5,813.0 718.5,812.9 719.5,812.9 720.5,812.8 721.5,813.2 722.4,813.1 723.4,813.7 724.4,813.6 725.4,813.6 726.4,812.3 727.4,812.3 728.4,812.2 729.4,812.8 730.4,812.8 731.4,812.1 732.4,812.0 733.3,812.3 734.3,812.3 735.3,812.2 736.3,811.5 737.3,812.0 738.3,811.9 739.3,811.4 740.3,811.3 741.3,811.3 742.3,812.9 743.3,812.9 744.2,812.8 745.2,812.7 746.2,811.4 747.2,811.3 748.2,811.3 749.2,811.8 750.2,811.7 751.2,811.8 752.2,811.8 753.2,810.2 754.2,810.8 755.1,810.7 756.1,810.6 757.1,811.3 758.1,811.3 759.1,811.2 760.1,811.2 761.1,811.0 762.1,808.0 763.1,808.0 764.1,807.9 765.1,807.9 766.1,811.0 767.0,810.9 768.0,810.8 769.0,810.8 770.0,810.3 771.0,810.2 772.0,810.2 773.0,810.1 774.0,809.2 775.0,809.1 776.0,809.0 777.0,810.5 777.9,810.4 778.9,810.4 779.9,810.2 780.9,810.1 781.9,810.1 782.9,810.0 783.9,808.8 784.9,808.8 785.9,808.7 786.9,808.6 787.9,808.6 788.8,807.5 789.8,808.3 790.8,808.2 791.8,808.1 792.8,808.1 793.8,809.2 794.8,809.2 795.8,809.1 796.8,809.3 797.8,809.2 798.8,809.2 799.7,806.9 800.7,808.4 801.7,809.1 802.7,809.1 803.7,809.0 804.7,809.0 805.7,807.2 806.7,807.1 807.7,808.4 808.7,808.4 809.7,806.7 810.6,806.6 811.6,806.6 812.6,806.5 813.6,807.1 814.6,808.2 815.6,808.1 816.6,808.1 817.6,807.5 818.6,807.4 819.6,807.4 820.6,807.4 821.5,807.3 822.5,805.9 823.5,805.9 824.5,805.8 825.5,805.7 826.5,806.1 827.5,806.1 828.5,806.0 829.5,805.9 830.5,807.8 831.5,807.8 832.4,807.4 833.4,807.3 834.4,807.1 835.4,807.0 836.4,805.0 837.4,805.0 838.4,807.4 839.4,807.3 840.4,807.2 841.4,807.2 842.4,807.2 843.3,807.1 844.3,806.5 845.3,806.4 846.3,806.3 847.3,805.0 848.3,806.4 849.3,806.3 850.3,806.3 851.3,806.2 852.3,804.8 853.3,804.8 854.2,804.7 855.2,804.6 856.2,805.1 857.2,805.1 858.2,805.0 859.2,805.0 860.2,805.8 861.2,805.8 862.2,805.7 863.2,805.6 864.2,805.7 865.2,804.6 866.1,804.5 867.1,804.5 868.1,804.4 869.1,802.1 870.1,802.0 871.1,804.3 872.1,804.5 873.1,804.0 874.1,804.0 875.1,803.9 876.1,804.7 877.0,804.5 878.0,804.5 879.0,804.4 880.0,804.4 881.0,804.8 882.0,804.7 883.0,802.7 884.0,802.7 885.0,802.6 886.0,802.3 887.0,802.2 887.9,802.2 888.9,802.1 889.9,802.7 890.9,802.7 891.9,802.6 892.9,802.6 893.9,802.5 894.9,802.5 895.9,802.4 896.9,802.4 897.9,803.6 898.8,804.1 899.8,804.1 900.8,804.0 901.8,803.9 902.8,803.8 903.8,802.3 904.8,802.9 905.8,802.8 906.8,802.8 907.8,800.4 908.8,800.3 909.7,802.4 910.7,802.4 911.7,802.3 912.7,800.5 913.7,803.0 914.7,802.9 915.7,802.9 916.7,802.1 917.7,802.1 918.7,802.4 919.7,802.4 920.6,802.3 921.6,802.1 922.6,802.1 923.6,800.9 924.6,800.9 925.6,801.1 926.6,801.0 927.6,801.6 928.6,801.5 929.6,800.4 930.6,800.3 931.5,801.0 932.5,802.1 933.5,801.8 934.5,801.8 935.5,800.6 936.5,800.5 937.5,800.5 938.5,798.8 939.5,798.8 940.5,798.7 941.5,800.7 942.4,800.7 943.4,800.6 944.4,801.0 945.4,801.0 946.4,800.9 947.4,800.9 948.4,801.1 949.4,801.0 950.4,800.5 951.4,799.9 952.4,799.9 953.4,799.9 954.3,799.8 955.3,800.1 956.3,800.5 957.3,799.1 958.3,799.1 959.3,799.8 960.3,799.8 961.3,799.8 962.3,799.7 963.3,799.9 964.3,799.9 965.2,799.9 966.2,800.0 967.2,799.8 968.2,799.8 969.2,799.7 970.2,799.7 971.2,797.3 972.2,797.3 973.2,797.3 974.2,797.3 975.2,798.0 976.1,798.0 977.1,798.8 978.1,798.8 979.1,800.4 980.1,800.4 981.1,800.3 982.1,800.3 983.1,800.6 984.1,800.6 985.1,799.2 986.1,799.1 987.0,799.1 988.0,799.1 989.0,799.3 990.0,799.3 991.0,799.3 992.0,799.5 993.0,799.0 994.0,799.7 995.0,798.3 996.0,798.2 997.0,797.8 997.9,797.7 998.9,799.2 999.9,800.3 1000.9,800.3 1001.9,799.1 1002.9,799.1 1003.9,799.1 1004.9,800.1 1005.9,800.1 1006.9,798.7 1007.9,799.0 1008.8,799.0 1009.8,799.0 1010.8,799.0 1011.8,799.4 1012.8,799.3 1013.8,799.3 1014.8,799.3 1015.8,798.6 1016.8,798.6 1017.8,797.4 1018.8,797.4 1019.7,799.6 1020.7,799.6 1021.7,799.6 1022.7,799.6 1023.7,799.8 1024.7,799.8 1025.7,797.9 1026.7,797.9 1027.7,798.2 1028.7,798.2 1029.7,798.5 1030.6,798.2 1031.6,798.9 1032.6,798.9 1033.6,798.9 1034.6,798.8 1035.6,798.1 1036.6,799.2 1037.6,799.2 1038.6,799.2 1039.6,799.2 1040.6,799.2 1041.5,798.8 1042.5,798.8 1043.5,798.7 1044.5,798.7 1045.5,799.1 1046.5,799.0 1047.5,799.0 1048.5,799.0 1049.5,798.9 1050.5,796.0 1051.5,795.9 1052.5,795.9 1053.4,797.7 1054.4,797.6 1055.4,797.8 1056.4,797.7 1057.4,797.7 1058.4,797.1 1059.4,797.0 1060.4,797.0 1061.4,797.0 1062.4,798.1 1063.4,798.0 1064.3,797.6 1065.3,797.5 1066.3,797.5 1067.3,795.6 1068.3,795.6 1069.3,797.9 1070.3,797.6 1071.3,797.6 1072.3,797.5 1073.3,797.5 1074.3,797.6 1075.2,797.5 1076.2,797.8 1077.2,797.8 1078.2,797.7 1079.2,797.7 1080.2,796.0 1081.2,796.9 1082.2,796.8 1083.2,795.8 1084.2,795.8 1085.2,795.8 1086.1,796.8 1087.1,796.8 1088.1,797.5 1089.1,797.4 1090.1,797.4 1091.1,797.4 1092.1,796.6 1093.1,796.5 1094.1,797.2 1095.1,797.2 1096.1,797.2 1097.0,797.1 1098.0,796.5 1099.0,796.4 1100.0,794.4 1101.0,794.4 1102.0,796.8 1103.0,796.8 1104.0,796.8 1105.0,796.8 1106.0,795.5 1107.0,795.5 1107.9,795.5 1108.9,795.5 1109.9,796.9 1110.9,796.9 1111.9,796.5 1112.9,796.5 1113.9,796.5 1114.9,796.4 1115.9,796.1 1116.9,795.6 1117.9,795.6 1118.8,795.6 1119.8,795.6 1120.8,795.9 1121.8,795.2 1122.8,794.4 1123.8,796.6 1124.8,796.8 1125.8,796.8 1126.8,796.4 1127.8,796.4 1128.8,796.4 1129.7,796.7 1130.7,796.7 1131.7,796.7 1132.7,794.2 1133.7,794.2 1134.7,794.2 1135.7,794.2 1136.7,794.9 1137.7,794.9 1138.7,794.9 1139.7,794.9 1140.6,794.2 1141.6,794.2 1142.6,794.2 1143.6,796.3 1144.6,796.3 1145.6,796.5 1146.6,796.5 1147.6,796.5 1148.6,796.5 1149.6,795.8 1150.6,796.0 1151.6,796.5 1152.5,796.4 1153.5,796.0 1154.5,796.5 1155.5,795.8 1156.5,795.7 1157.5,795.7 1158.5,794.9 1159.5,794.9 1160.5,794.8 1161.5,796.2 1162.5,796.1 1163.4,794.0 1164.4,795.5 1165.4,795.5 1166.4,796.0 1167.4,795.9 1168.4,795.9 1169.4,795.0 1170.4,795.0 1171.4,795.0 1172.4,794.9 1173.4,794.8 1174.3,794.8 1175.3,794.8 1176.3,795.5 1177.3,795.4 1178.3,795.2 1179.3,795.2 1180.3,795.2 1181.3,792.9 1182.3,793.1 1183.3,793.1 1184.3,795.1 1185.2,795.1 1186.2,795.0 1187.2,795.0 1188.2,795.1 1189.2,795.1 1190.2,795.1 1191.2,795.0 1192.2,793.5 1193.2,793.4 1194.2,793.4 1195.2,793.4 1196.1,792.0 1197.1,792.0 1198.1,792.0 1199.1,793.9 1200.1,793.9 1201.1,793.4 1202.1,793.3 1203.1,794.4 1204.1,794.4 1205.1,794.4 1206.1,794.3 1207.0,790.5 1208.0,790.4 1209.0,794.1 1210.0,792.2 1211.0,792.2 1212.0,792.1 1213.0,793.2 1214.0,793.2 1215.0,793.1 1216.0,793.1 1217.0,793.7 1217.9,793.7 1218.9,793.6 1219.9,793.6 1220.9,793.4 1221.9,793.3 1222.9,793.3 1223.9,792.0 1224.9,792.5 1225.9,792.4 1226.9,792.4 1227.9,792.3 1228.8,793.1 1229.8,792.5 1230.8,792.4 1231.8,792.4 1232.8,792.6 1233.8,792.5 1234.8,792.5 1235.8,792.3 1236.8,792.3 1237.8,790.4 1238.8,790.3 1239.7,792.5 1240.7,792.4 1241.7,792.4 1242.7,792.5 1243.7,791.8 1244.7,791.8 1245.7,791.7 1246.7,791.7 1247.7,792.4 1248.7,792.4 1249.7,790.7 1250.7,790.5 1251.6,790.4 1252.6,791.0 1253.6,791.0 1254.6,790.9 1255.6,790.8 1256.6,790.9 1257.6,790.8 1258.6,790.7 1259.6,791.0 1260.6,790.9 1261.6,790.8 1262.5,791.1 1263.5,791.0 1264.5,790.8 1265.5,790.8 1266.5,790.7 1267.5,790.6 1268.5,790.7 1269.5,790.6 1270.5,790.5 1271.5,790.4 1272.5,788.3 1273.4,788.2 1274.4,789.9 1275.4,789.8 1276.4,788.2 1277.4,789.0 1278.4,788.9 1279.4,788.8 1280.4,788.7 1281.4,787.6 1282.4,787.6 1283.4,787.5 1284.3,788.1 1285.3,788.0 1286.3,788.8 1287.3,788.7 1288.3,788.6 1289.3,788.6 1290.3,787.7 1291.3,787.6 1292.3,787.1 1293.3,787.0 1294.3,786.9 1295.2,786.8 1296.2,786.7 1297.2,786.6 1298.2,786.5 1299.2,785.4 1300.2,787.7 1301.2,787.7 1302.2,786.1 1303.2,786.0 1304.2,786.0 1305.2,787.3 1306.1,787.2 1307.1,785.0 1308.1,785.0 1309.1,784.9 1310.1,784.8 1311.1,785.7 1312.1,785.7 1313.1,785.6 1314.1,785.6 1315.1,786.8 1316.1,786.8 1317.0,786.7 1318.0,786.5 1319.0,786.4 1320.0,784.6 1321.0,785.5 1322.0,785.4 1323.0,785.4 1324.0,785.6 1325.0,785.5 1326.0,785.7 1327.0,785.6 1327.9,785.6 1328.9,786.0 1329.9,785.2 1330.9,785.1 1331.9,785.1 1332.9,783.8 1333.9,783.7 1334.9,783.7 1335.9,784.0 1336.9,785.2 1337.9,785.1 1338.8,785.2 1339.8,785.1 1340.8,785.0 1341.8,785.0 1342.8,784.6 1343.8,784.9 1344.8,784.9 1345.8,784.8 1346.8,784.8 1347.8,784.3 1348.8,784.2 1349.8,784.2 1350.7,782.3 1351.7,782.2 1352.7,782.5 1353.7,783.8 1354.7,783.8 1355.7,783.7 1356.7,784.0 1357.7,783.9 1358.7,783.9 1359.7,782.4 1360.7,782.4 1361.6,782.3 1362.6,782.1 1363.6,783.7 1364.6,783.6 1365.6,783.6 1366.6,783.5 1367.6,782.8 1368.6,782.7 1369.6,782.7 1370.6,782.6 1371.6,783.4 1372.5,783.4 1373.5,783.3 1374.5,783.3 1375.5,783.3 1376.5,783.3 1377.5,783.2 1378.5,783.1 1379.5,781.2 1380.5,781.2 1381.5,781.1 1382.5,781.1 1383.4,781.6 1384.4,781.6 1385.4,781.5 1386.4,782.2 1387.4,782.2 1388.4,782.1 1389.4,782.1 1390.4,781.9 1391.4,781.9 1392.4,781.8 1393.4,781.8 1394.3,781.2 1395.3,781.4 1396.3,781.9 1397.3,781.8 1398.3,781.8 1399.3,782.0 1400.3,782.0 1401.3,781.9 1402.3,781.8 1403.3,781.2 1404.3,780.7 1405.2,780.6 1406.2,780.5 1407.2,780.2 1408.2,781.2 1409.2,781.1 1410.2,781.0 1411.2,780.5 1412.2,780.5 1413.2,780.8 1414.2,780.7 1415.2,780.6 1416.1,779.4 1417.1,779.4 1418.1,780.0 1419.1,779.9 1420.1,779.8 1421.1,779.7 1422.1,777.6 1423.1,779.2 1424.1,779.1 1425.1,777.9 1426.1,777.5 1427.0,777.4 1428.0,777.3 1429.0,777.2 1430.0,778.6 1431.0,778.6 1432.0,778.5 1433.0,778.3 1434.0,778.3 1435.0,778.5 1436.0,778.4 1437.0,778.4 1437.9,777.8 1438.9,777.8 1439.9,777.7 1440.9,778.9 1441.9,778.9 1442.9,778.8 1443.9,776.6 1444.9,776.6 1445.9,776.5 1446.9,776.5 1447.9,778.1 1448.8,778.1 1449.8,778.0 1450.8,778.0 1451.8,777.6 1452.8,778.1 1453.8,778.0 1454.8,777.6 1455.8,777.6 1456.8,777.5 1457.8,777.4 1458.8,776.6 1459.8,776.6 1460.7,776.5 1461.7,777.4 1462.7,777.3 1463.7,777.3 1464.7,777.2 1465.7,776.0 1466.7,775.9 1467.7,776.7 1468.7,776.6 1469.7,776.5 1470.7,776.4 1471.6,775.6 1472.6,775.5 1473.6,775.3 1474.6,775.2 1475.6,775.0 1476.6,776.8 1477.6,776.8 1478.6,776.7 1479.6,776.6 1480.6,775.1 1481.6,775.0 1482.5,775.5 1483.5,775.5 1484.5,775.4 1485.5,775.3 1486.5,775.2 1487.5,775.4 1488.5,775.4 1489.5,772.3 1490.5,772.2 1491.5,773.3 1492.5,773.2 1493.4,773.2 1494.4,773.1 1495.4,773.9 1496.4,773.8 1497.4,773.7 1498.4,773.7 1498.4,975.4 1497.4,975.4 1496.4,975.3 1495.4,975.3 1494.4,974.4 1493.4,974.3 1492.5,974.3 1491.5,976.0 1490.5,974.1 1489.5,974.0 1488.5,975.7 1487.5,975.6 1486.5,975.6 1485.5,975.6 1484.5,975.1 1483.5,975.0 1482.5,975.0 1481.6,975.0 1480.6,974.1 1479.6,974.1 1478.6,974.5 1477.6,974.5 1476.6,975.3 1475.6,975.3 1474.6,975.2 1473.6,974.6 1472.6,974.4 1471.6,974.4 1470.7,974.3 1469.7,974.3 1468.7,975.4 1467.7,975.4 1466.7,975.4 1465.7,973.9 1464.7,976.1 1463.7,976.1 1462.7,976.0 1461.7,976.0 1460.7,974.9 1459.8,974.2 1458.8,974.2 1457.8,974.2 1456.8,974.2 1455.8,973.5 1454.8,973.4 1453.8,975.0 1452.8,975.0 1451.8,975.9 1450.8,975.9 1449.8,975.9 1448.8,973.6 1447.9,973.6 1446.9,973.6 1445.9,973.6 1444.9,973.4 1443.9,973.4 1442.9,973.2 1441.9,974.1 1440.9,973.5 1439.9,973.9 1438.9,973.8 1437.9,973.7 1437.0,973.7 1436.0,974.1 1435.0,973.0 1434.0,972.9 1433.0,973.2 1432.0,973.1 1431.0,973.0 1430.0,972.9 1429.0,974.0 1428.0,973.9 1427.0,973.8 1426.1,971.8 1425.1,971.7 1424.1,971.6 1423.1,971.5 1422.1,971.4 1421.1,972.9 1420.1,972.8 1419.1,972.7 1418.1,971.0 1417.1,970.9 1416.1,970.8 1415.2,970.7 1414.2,971.5 1413.2,971.4 1412.2,971.3 1411.2,970.2 1410.2,970.1 1409.2,970.0 1408.2,971.2 1407.2,971.2 1406.2,971.2 1405.2,970.5 1404.3,970.0 1403.3,970.0 1402.3,970.0 1401.3,970.6 1400.3,970.6 1399.3,970.4 1398.3,970.4 1397.3,970.4 1396.3,972.3 1395.3,970.4 1394.3,970.5 1393.4,972.0 1392.4,972.0 1391.4,972.0 1390.4,972.0 1389.4,970.8 1388.4,970.2 1387.4,970.2 1386.4,969.8 1385.4,969.8 1384.4,969.7 1383.4,971.1 1382.5,970.9 1381.5,970.0 1380.5,971.7 1379.5,969.8 1378.5,969.8 1377.5,969.8 1376.5,970.2 1375.5,970.2 1374.5,970.7 1373.5,970.7 1372.5,970.9 1371.6,970.9 1370.6,969.8 1369.6,969.8 1368.6,970.4 1367.6,970.4 1366.6,970.4 1365.6,971.2 1364.6,971.2 1363.6,971.2 1362.6,971.1 1361.6,970.5 1360.7,970.4 1359.7,970.4 1358.7,970.4 1357.7,970.4 1356.7,970.9 1355.7,970.9 1354.7,970.9 1353.7,970.9 1352.7,970.5 1351.7,970.5 1350.7,970.5 1349.8,970.5 1348.8,969.7 1347.8,969.7 1346.8,970.0 1345.8,970.0 1344.8,970.0 1343.8,969.7 1342.8,969.7 1341.8,969.3 1340.8,969.3 1339.8,969.3 1338.8,969.3 1337.9,969.3 1336.9,972.0 1335.9,969.9 1334.9,969.9 1333.9,970.7 1332.9,970.7 1331.9,970.7 1330.9,969.2 1329.9,969.1 1328.9,969.1 1327.9,969.1 1327.0,970.8 1326.0,970.0 1325.0,970.0 1324.0,970.0 1323.0,968.9 1322.0,969.9 1321.0,969.8 1320.0,969.7 1319.0,970.5 1318.0,970.4 1317.0,968.9 1316.1,968.9 1315.1,968.9 1314.1,968.9 1313.1,968.7 1312.1,968.7 1311.1,968.7 1310.1,968.7 1309.1,968.7 1308.1,968.7 1307.1,968.6 1306.1,968.6 1305.2,969.1 1304.2,969.4 1303.2,969.4 1302.2,969.9 1301.2,969.9 1300.2,969.8 1299.2,969.8 1298.2,968.6 1297.2,968.5 1296.2,970.0 1295.2,970.0 1294.3,968.9 1293.3,969.1 1292.3,968.3 1291.3,968.3 1290.3,969.1 1289.3,969.1 1288.3,969.4 1287.3,969.4 1286.3,969.3 1285.3,969.3 1284.3,969.4 1283.4,969.3 1282.4,969.3 1281.4,969.3 1280.4,968.9 1279.4,968.9 1278.4,968.9 1277.4,968.4 1276.4,968.6 1275.4,967.9 1274.4,967.9 1273.4,967.8 1272.5,968.1 1271.5,968.1 1270.5,969.9 1269.5,969.9 1268.5,969.6 1267.5,969.5 1266.5,968.0 1265.5,967.9 1264.5,968.2 1263.5,968.2 1262.5,968.1 1261.6,968.1 1260.6,967.5 1259.6,967.5 1258.6,967.5 1257.6,968.8 1256.6,968.8 1255.6,968.8 1254.6,968.7 1253.6,967.7 1252.6,968.7 1251.6,968.6 1250.7,968.6 1249.7,967.1 1248.7,968.8 1247.7,967.6 1246.7,967.6 1245.7,968.0 1244.7,967.8 1243.7,967.8 1242.7,967.8 1241.7,967.8 1240.7,966.9 1239.7,966.9 1238.8,966.9 1237.8,970.0 1236.8,968.1 1235.8,968.0 1234.8,968.0 1233.8,968.9 1232.8,968.9 1231.8,968.9 1230.8,969.2 1229.8,969.2 1228.8,969.2 1227.9,967.2 1226.9,967.1 1225.9,966.9 1224.9,966.9 1223.9,970.6 1222.9,970.6 1221.9,970.6 1220.9,967.0 1219.9,966.9 1218.9,968.2 1217.9,968.2 1217.0,968.1 1216.0,966.5 1215.0,966.5 1214.0,966.5 1213.0,966.5 1212.0,967.4 1211.0,967.3 1210.0,967.2 1209.0,967.2 1208.0,967.2 1207.0,968.4 1206.1,967.5 1205.1,967.2 1204.1,967.2 1203.1,967.1 1202.1,967.1 1201.1,967.0 1200.1,967.0 1199.1,967.0 1198.1,966.8 1197.1,966.8 1196.1,966.7 1195.2,966.7 1194.2,966.7 1193.2,966.6 1192.2,967.0 1191.2,966.9 1190.2,966.9 1189.2,967.4 1188.2,967.3 1187.2,969.1 1186.2,969.1 1185.2,965.8 1184.3,965.8 1183.3,965.7 1182.3,965.7 1181.3,967.2 1180.3,967.1 1179.3,966.3 1178.3,966.2 1177.3,966.2 1176.3,966.2 1175.3,966.9 1174.3,966.8 1173.4,966.1 1172.4,966.1 1171.4,966.0 1170.4,967.0 1169.4,965.9 1168.4,965.8 1167.4,967.0 1166.4,966.9 1165.4,966.8 1164.4,966.7 1163.4,966.7 1162.5,964.9 1161.5,964.8 1160.5,965.2 1159.5,965.2 1158.5,965.2 1157.5,966.1 1156.5,966.0 1155.5,966.0 1154.5,965.9 1153.5,964.6 1152.5,965.1 1151.6,965.0 1150.6,965.0 1149.6,965.3 1148.6,965.1 1147.6,965.0 1146.6,965.0 1145.6,965.0 1144.6,965.4 1143.6,965.4 1142.6,964.6 1141.6,966.4 1140.6,966.4 1139.7,964.3 1138.7,964.3 1137.7,964.2 1136.7,964.2 1135.7,965.0 1134.7,965.0 1133.7,965.0 1132.7,965.0 1131.7,965.0 1130.7,965.0 1129.7,964.4 1128.8,965.2 1127.8,964.8 1126.8,964.8 1125.8,964.7 1124.8,964.1 1123.8,964.1 1122.8,964.1 1121.8,964.1 1120.8,964.9 1119.8,964.9 1118.8,964.9 1117.9,964.8 1116.9,964.9 1115.9,964.9 1114.9,964.9 1113.9,964.0 1112.9,964.0 1111.9,964.0 1110.9,965.1 1109.9,963.9 1108.9,963.9 1107.9,964.0 1107.0,963.9 1106.0,964.3 1105.0,964.2 1104.0,963.8 1103.0,963.7 1102.0,963.7 1101.0,963.7 1100.0,964.5 1099.0,964.5 1098.0,964.6 1097.0,964.6 1096.1,964.6 1095.1,964.6 1094.1,964.4 1093.1,964.4 1092.1,964.9 1091.1,964.9 1090.1,964.4 1089.1,966.2 1088.1,966.2 1087.1,966.2 1086.1,966.2 1085.2,965.6 1084.2,965.7 1083.2,965.7 1082.2,965.6 1081.2,965.6 1080.2,965.6 1079.2,965.6 1078.2,964.4 1077.2,964.4 1076.2,964.4 1075.2,964.7 1074.3,964.7 1073.3,964.1 1072.3,964.0 1071.3,964.0 1070.3,964.9 1069.3,964.9 1068.3,966.2 1067.3,966.2 1066.3,963.7 1065.3,965.2 1064.3,965.2 1063.4,965.2 1062.4,965.2 1061.4,964.2 1060.4,964.2 1059.4,964.7 1058.4,964.7 1057.4,964.4 1056.4,964.4 1055.4,964.4 1054.4,964.5 1053.4,964.8 1052.5,964.5 1051.5,964.5 1050.5,964.5 1049.5,964.5 1048.5,964.7 1047.5,964.9 1046.5,964.9 1045.5,965.8 1044.5,965.8 1043.5,965.8 1042.5,963.7 1041.5,963.7 1040.6,963.6 1039.6,963.6 1038.6,963.7 1037.6,963.7 1036.6,963.7 1035.6,963.9 1034.6,963.9 1033.6,963.9 1032.6,964.0 1031.6,964.0 1030.6,964.0 1029.7,963.8 1028.7,963.7 1027.7,963.5 1026.7,963.2 1025.7,963.2 1024.7,963.1 1023.7,963.1 1022.7,963.4 1021.7,963.3 1020.7,963.2 1019.7,963.2 1018.8,963.2 1017.8,963.2 1016.8,964.0 1015.8,964.0 1014.8,963.3 1013.8,963.2 1012.8,963.2 1011.8,962.6 1010.8,963.0 1009.8,962.9 1008.8,962.8 1007.9,962.8 1006.9,963.6 1005.9,964.0 1004.9,964.0 1003.9,963.7 1002.9,963.7 1001.9,963.7 1000.9,964.2 999.9,962.6 998.9,964.2 997.9,964.2 997.0,964.1 996.0,964.1 995.0,964.1 994.0,964.0 993.0,964.0 992.0,965.4 991.0,963.5 990.0,963.5 989.0,962.4 988.0,963.2 987.0,962.5 986.1,962.5 985.1,962.5 984.1,964.5 983.1,964.5 982.1,964.5 981.1,964.4 980.1,965.3 979.1,964.3 978.1,964.5 977.1,965.3 976.1,965.2 975.2,963.1 974.2,963.3 973.2,963.3 972.2,963.2 971.2,962.9 970.2,962.9 969.2,962.9 968.2,961.9 967.2,961.9 966.2,963.4 965.2,963.4 964.3,963.4 963.3,963.4 962.3,963.3 961.3,963.3 960.3,962.9 959.3,962.9 958.3,962.9 957.3,962.0 956.3,962.0 955.3,962.0 954.3,962.8 953.4,962.7 952.4,962.7 951.4,962.0 950.4,962.0 949.4,965.1 948.4,965.1 947.4,962.2 946.4,962.2 945.4,962.2 944.4,962.1 943.4,962.1 942.4,962.0 941.5,962.0 940.5,962.0 939.5,961.6 938.5,961.6 937.5,961.6 936.5,963.9 935.5,962.4 934.5,962.3 933.5,962.0 932.5,961.9 931.5,961.9 930.6,961.4 929.6,961.5 928.6,961.5 927.6,961.4 926.6,961.4 925.6,962.5 924.6,962.5 923.6,962.2 922.6,961.4 921.6,961.3 920.6,961.3 919.7,961.3 918.7,961.4 917.7,961.4 916.7,961.3 915.7,960.8 914.7,960.7 913.7,961.1 912.7,961.0 911.7,961.0 910.7,963.0 909.7,963.0 908.8,960.8 907.8,960.8 906.8,960.8 905.8,960.7 904.8,960.5 903.8,960.5 902.8,960.5 901.8,960.4 900.8,960.1 899.8,960.1 898.8,960.0 897.9,960.0 896.9,959.7 895.9,961.8 894.9,961.6 893.9,961.6 892.9,961.5 891.9,959.6 890.9,959.5 889.9,959.5 888.9,962.6 887.9,962.6 887.0,962.6 886.0,959.8 885.0,959.7 884.0,959.7 883.0,959.6 882.0,959.3 881.0,959.3 880.0,959.2 879.0,959.1 878.0,959.1 877.0,959.1 876.1,959.4 875.1,961.0 874.1,960.9 873.1,960.9 872.1,960.8 871.1,959.6 870.1,960.2 869.1,960.2 868.1,958.8 867.1,958.7 866.1,958.7 865.2,958.7 864.2,958.9 863.2,958.8 862.2,958.8 861.2,959.8 860.2,959.7 859.2,959.7 858.2,959.4 857.2,959.3 856.2,959.3 855.2,959.9 854.2,959.9 853.3,959.6 852.3,959.6 851.3,959.6 850.3,959.5 849.3,959.6 848.3,959.6 847.3,959.6 846.3,958.6 845.3,958.6 844.3,959.1 843.3,958.1 842.4,958.1 841.4,958.1 840.4,958.4 839.4,959.8 838.4,959.8 837.4,959.8 836.4,958.6 835.4,958.6 834.4,958.6 833.4,960.6 832.4,959.0 831.5,958.9 830.5,958.9 829.5,958.9 828.5,957.7 827.5,957.7 826.5,960.7 825.5,960.7 824.5,960.7 823.5,958.3 822.5,959.6 821.5,959.6 820.6,959.5 819.6,958.6 818.6,958.6 817.6,958.6 816.6,958.6 815.6,959.3 814.6,959.3 813.6,957.7 812.6,957.7 811.6,957.8 810.6,957.7 809.7,957.7 808.7,960.3 807.7,957.9 806.7,957.8 805.7,958.8 804.7,958.8 803.7,958.3 802.7,957.4 801.7,957.4 800.7,957.4 799.7,960.6 798.8,960.6 797.8,958.2 796.8,958.2 795.8,958.1 794.8,958.0 793.8,957.5 792.8,957.5 791.8,957.4 790.8,957.2 789.8,957.1 788.8,957.1 787.9,959.0 786.9,959.0 785.9,958.9 784.9,958.9 783.9,958.8 782.9,958.8 781.9,956.9 780.9,956.9 779.9,956.9 778.9,957.0 777.9,957.5 777.0,957.5 776.0,957.5 775.0,957.5 774.0,956.7 773.0,956.7 772.0,956.7 771.0,956.8 770.0,956.8 769.0,956.8 768.0,956.8 767.0,958.6 766.1,958.5 765.1,958.1 764.1,958.0 763.1,958.0 762.1,958.0 761.1,957.3 760.1,957.3 759.1,957.3 758.1,960.4 757.1,960.4 756.1,960.4 755.1,958.4 754.2,956.3 753.2,956.7 752.2,956.7 751.2,956.7 750.2,956.6 749.2,956.8 748.2,956.8 747.2,956.9 746.2,956.8 745.2,956.8 744.2,956.7 743.3,956.6 742.3,955.6 741.3,955.5 740.3,955.6 739.3,955.5 738.3,955.5 737.3,955.2 736.3,955.1 735.3,955.3 734.3,955.2 733.3,955.0 732.4,956.6 731.4,956.6 730.4,956.5 729.4,956.4 728.4,955.0 727.4,954.9 726.4,954.3 725.4,954.2 724.4,954.1 723.4,954.0 722.4,954.0 721.5,953.9 720.5,955.1 719.5,955.0 718.5,955.0 717.5,954.9 716.5,954.5 715.5,954.4 714.5,954.3 713.5,954.3 712.5,954.2 711.5,954.1 710.6,954.0 709.6,953.9 708.6,954.0 707.6,953.7 706.6,953.6 705.6,953.5" fill="#ead6fc"/>
<polygon points="705.6,811.6 706.6,811.4 707.6,811.2 708.6,810.1 709.6,809.9 710.6,810.6 711.5,810.4 712.5,810.1 713.5,809.5 714.5,809.4 715.5,809.6 716.5,809.4 717.5,809.2 718.5,809.0 719.5,808.6 720.5,808.4 721.5,808.3 722.4,807.7 723.4,807.6 724.4,807.4 725.4,807.2 726.4,808.0 727.4,807.9 728.4,807.8 729.4,807.5 730.4,807.5 731.4,807.4 732.4,807.4 733.3,806.1 734.3,806.0 735.3,806.8 736.3,806.7 737.3,806.6 738.3,806.5 739.3,806.9 740.3,806.9 741.3,806.4 742.3,806.7 743.3,806.1 744.2,806.1 745.2,806.0 746.2,806.0 747.2,805.7 748.2,805.6 749.2,805.9 750.2,805.7 751.2,805.3 752.2,805.2 753.2,806.0 754.2,806.0 755.1,805.0 756.1,804.9 757.1,805.6 758.1,805.6 759.1,805.5 760.1,805.9 761.1,805.9 762.1,805.6 763.1,805.7 764.1,805.7 765.1,805.6 766.1,805.6 767.0,805.5 768.0,805.5 769.0,805.2 770.0,805.1 771.0,805.1 772.0,805.0 773.0,804.2 774.0,804.1 775.0,804.1 776.0,804.1 777.0,804.0 777.9,804.5 778.9,804.4 779.9,804.4 780.9,803.7 781.9,804.6 782.9,804.4 783.9,804.3 784.9,804.0 785.9,803.8 786.9,803.7 787.9,803.9 788.8,803.8 789.8,803.6 790.8,803.3 791.8,803.0 792.8,802.7 793.8,802.1 794.8,801.9 795.8,801.8 796.8,802.2 797.8,802.1 798.8,801.9 799.7,802.0 800.7,801.9 801.7,801.8 802.7,801.7 803.7,801.1 804.7,801.6 805.7,800.8 806.7,800.7 807.7,800.6 808.7,801.0 809.7,800.9 810.6,800.8 811.6,800.2 812.6,800.1 813.6,800.0 814.6,799.9 815.6,800.2 816.6,800.1 817.6,800.0 818.6,799.5 819.6,799.4 820.6,799.3 821.5,800.0 822.5,799.9 823.5,799.8 824.5,799.8 825.5,799.7 826.5,798.7 827.5,799.4 828.5,798.4 829.5,798.3 830.5,798.2 831.5,798.1 832.4,798.5 833.4,798.4 834.4,798.3 835.4,798.2 836.4,797.4 837.4,797.3 838.4,797.2 839.4,797.1 840.4,797.9 841.4,797.8 842.4,797.7 843.3,797.6 844.3,797.5 845.3,795.8 846.3,796.1 847.3,796.3 848.3,798.3 849.3,798.6 850.3,798.6 851.3,799.0 852.3,799.3 853.3,799.5 854.2,799.8 855.2,799.0 856.2,799.3 857.2,799.5 858.2,800.5 859.2,800.8 860.2,801.0 861.2,801.3 862.2,801.3 863.2,801.2 864.2,800.5 865.2,800.5 866.1,800.4 867.1,801.4 868.1,801.4 869.1,800.5 870.1,801.2 871.1,801.2 872.1,801.2 873.1,801.2 874.1,801.1 875.1,801.1 876.1,800.7 877.0,800.7 878.0,800.6 879.0,798.8 880.0,798.7 881.0,798.4 882.0,799.4 883.0,799.0 884.0,799.4 885.0,799.3 886.0,799.0 887.0,798.5 887.9,797.2 888.9,797.7 889.9,798.3 890.9,799.6 891.9,800.2 892.9,799.7 893.9,800.3 894.9,801.9 895.9,802.6 896.9,803.3 896.9,804.7 895.9,804.9 894.9,805.0 893.9,805.2 892.9,805.3 891.9,805.5 890.9,805.6 889.9,805.8 888.9,805.9 887.9,806.1 887.0,806.2 886.0,806.4 885.0,806.5 884.0,806.7 883.0,806.8 882.0,807.0 881.0,807.1 880.0,807.3 879.0,807.3 878.0,807.4 877.0,807.4 876.1,807.5 875.1,807.5 874.1,807.6 873.1,807.6 872.1,807.6 871.1,807.7 870.1,807.7 869.1,807.8 868.1,807.8 867.1,807.8 866.1,807.9 865.2,807.9 864.2,808.0 863.2,808.0 862.2,808.1 861.2,808.1 860.2,808.1 859.2,808.2 858.2,808.2 857.2,808.3 856.2,808.3 855.2,808.4 854.2,808.4 853.3,808.4 852.3,808.5 851.3,808.5 850.3,808.6 849.3,808.6 848.3,808.6 847.3,808.7 846.3,808.7 845.3,808.8 844.3,808.8 843.3,808.9 842.4,808.9 841.4,808.9 840.4,809.0 839.4,809.0 838.4,809.1 837.4,809.1 836.4,809.2 835.4,809.2 834.4,809.2 833.4,809.3 832.4,809.3 831.5,809.4 830.5,809.4 829.5,809.4 828.5,809.5 827.5,809.5 826.5,809.6 825.5,809.6 824.5,809.7 823.5,809.7 822.5,809.7 821.5,809.8 820.6,809.8 819.6,809.9 818.6,809.9 817.6,810.0 816.6,810.0 815.6,810.0 814.6,810.1 813.6,810.1 812.6,810.2 811.6,810.2 810.6,810.2 809.7,810.3 808.7,810.3 807.7,810.4 806.7,810.4 805.7,810.5 804.7,810.5 803.7,810.5 802.7,810.6 801.7,810.6 800.7,810.7 799.7,810.7 798.8,810.8 797.8,810.8 796.8,810.9 795.8,810.9 794.8,811.0 793.8,811.0 792.8,811.1 791.8,811.2 790.8,811.2 789.8,811.3 788.8,811.3 787.9,811.4 786.9,811.4 785.9,811.5 784.9,811.5 783.9,811.6 782.9,811.7 781.9,811.7 780.9,811.8 779.9,811.8 778.9,811.9 777.9,811.9 777.0,812.0 776.0,812.0 775.0,812.1 774.0,812.2 773.0,812.2 772.0,812.3 771.0,812.3 770.0,812.4 769.0,812.4 768.0,812.5 767.0,812.6 766.1,812.6 765.1,812.7 764.1,812.7 763.1,812.8 762.1,812.8 761.1,812.9 760.1,812.9 759.1,813.0 758.1,813.1 757.1,813.1 756.1,813.2 755.1,813.2 754.2,813.3 753.2,813.3 752.2,813.4 751.2,813.4 750.2,813.5 749.2,813.6 748.2,813.6 747.2,813.7 746.2,813.7 745.2,813.8 744.2,813.8 743.3,813.9 742.3,813.9 741.3,814.0 740.3,814.1 739.3,814.1 738.3,814.2 737.3,814.2 736.3,814.3 735.3,814.3 734.3,814.4 733.3,814.4 732.4,814.5 731.4,814.6 730.4,814.6 729.4,814.7 728.4,814.7 727.4,814.8 726.4,814.8 725.4,814.9 724.4,814.9 723.4,815.0 722.4,815.1 721.5,815.1 720.5,815.2 719.5,815.2 718.5,815.3 717.5,815.3 716.5,815.4 715.5,815.4 714.5,815.5 713.5,815.6 712.5,815.6 711.5,815.7 710.6,815.7 709.6,815.8 708.6,815.8 707.6,815.9 706.6,815.9 705.6,816.0" fill="#3b97cc"/>
<polygon points="1078.2,797.8 1079.2,798.2 1080.2,797.5 1081.2,797.8 1082.2,797.8 1083.2,797.6 1084.2,798.0 1085.2,797.6 1086.1,797.9 1087.1,797.3 1088.1,796.5 1089.1,797.5 1090.1,798.0 1091.1,798.1 1092.1,797.6 1093.1,797.9 1094.1,797.8 1095.1,796.8 1096.1,798.0 1097.0,797.4 1098.0,797.8 1099.0,797.5 1100.0,797.8 1101.0,797.9 1102.0,797.9 1103.0,797.9 1104.0,797.6 1105.0,798.0 1106.0,797.4 1107.0,797.7 1107.9,798.0 1108.9,797.5 1109.9,797.9 1110.9,798.0 1111.9,798.1 1112.9,796.8 1113.9,797.5 1114.9,797.7 1115.9,797.6 1116.9,797.4 1117.9,797.9 1118.8,797.9 1119.8,798.2 1120.8,798.2 1121.8,798.3 1121.8,804.3 1120.8,804.2 1119.8,804.2 1118.8,803.9 1117.9,803.9 1116.9,803.4 1115.9,803.6 1114.9,803.7 1113.9,803.5 1112.9,802.8 1111.9,804.1 1110.9,804.0 1109.9,803.9 1108.9,803.5 1107.9,804.0 1107.0,803.7 1106.0,803.4 1105.0,804.0 1104.0,803.6 1103.0,803.9 1102.0,803.9 1101.0,803.9 1100.0,803.8 1099.0,803.5 1098.0,803.8 1097.0,803.4 1096.1,804.0 1095.1,802.8 1094.1,803.8 1093.1,803.9 1092.1,803.6 1091.1,804.1 1090.1,804.0 1089.1,803.5 1088.1,802.5 1087.1,803.3 1086.1,803.9 1085.2,803.6 1084.2,804.0 1083.2,803.6 1082.2,803.8 1081.2,803.8 1080.2,803.5 1079.2,804.2 1078.2,803.8" fill="#3b97cc"/>
<polygon points="1437.0,973.4 1437.9,973.7 1438.9,974.0 1439.9,974.4 1440.9,974.1 1441.9,974.4 1442.9,974.3 1443.9,974.2 1444.9,975.0 1445.9,974.7 1446.9,974.2 1447.9,974.3 1448.8,974.2 1449.8,975.5 1450.8,974.2 1451.8,974.1 1452.8,974.4 1453.8,975.1 1454.8,974.2 1455.8,974.3 1456.8,974.3 1457.8,974.7 1458.8,974.6 1459.8,974.6 1460.7,974.4 1461.7,974.2 1462.7,974.5 1463.7,974.9 1464.7,974.4 1465.7,974.5 1466.7,974.2 1467.7,974.5 1468.7,974.6 1469.7,974.2 1470.7,974.8 1471.6,974.2 1472.6,974.4 1473.6,974.6 1474.6,974.4 1475.6,974.3 1476.6,974.1 1477.6,974.0 1478.6,974.7 1479.6,974.3 1480.6,974.2 1481.6,974.0 1482.5,974.7 1483.5,974.6 1484.5,974.1 1485.5,974.2 1486.5,974.2 1487.5,974.3 1488.5,974.0 1489.5,974.3 1490.5,974.2 1491.5,974.6 1492.5,974.8 1493.4,974.2 1494.4,974.8 1495.4,974.3 1496.4,974.4 1497.4,974.3 1498.4,974.0 1498.4,968.0 1497.4,968.3 1496.4,968.4 1495.4,968.3 1494.4,968.8 1493.4,968.2 1492.5,968.8 1491.5,968.6 1490.5,968.2 1489.5,968.3 1488.5,968.0 1487.5,968.3 1486.5,968.2 1485.5,968.2 1484.5,968.1 1483.5,968.6 1482.5,968.7 1481.6,968.0 1480.6,968.2 1479.6,968.3 1478.6,968.7 1477.6,968.0 1476.6,968.1 1475.6,968.3 1474.6,968.4 1473.6,968.6 1472.6,968.4 1471.6,968.2 1470.7,968.8 1469.7,968.2 1468.7,968.6 1467.7,968.5 1466.7,968.2 1465.7,968.5 1464.7,968.4 1463.7,968.9 1462.7,968.5 1461.7,968.2 1460.7,968.4 1459.8,968.6 1458.8,968.6 1457.8,968.7 1456.8,968.3 1455.8,968.3 1454.8,968.2 1453.8,969.1 1452.8,968.4 1451.8,968.1 1450.8,968.2 1449.8,969.5 1448.8,968.2 1447.9,968.3 1446.9,968.2 1445.9,968.7 1444.9,969.0 1443.9,968.2 1442.9,968.3 1441.9,968.4 1440.9,968.1 1439.9,968.4 1438.9,968.0 1437.9,967.7 1437.0,967.4" fill="#3b97cc"/>
<polygon points="705.6,814.5 706.6,814.4 707.6,814.4 708.6,814.4 709.6,814.3 710.6,814.3 711.5,813.8 712.5,813.8 713.5,813.9 714.5,813.8 715.5,813.7 716.5,813.7 717.5,814.2 718.5,814.1 719.5,812.7 720.5,812.7 721.5,812.7 722.4,812.6 723.4,812.6 724.4,813.7 725.4,813.7 726.4,813.6 727.4,813.6 728.4,813.5 729.4,811.4 730.4,812.9 731.4,812.9 732.4,812.4 733.3,812.3 734.3,812.3 735.3,812.2 736.3,813.0 737.3,812.9 738.3,812.9 739.3,812.7 740.3,812.6 741.3,812.6 742.3,812.4 743.3,812.6 744.2,812.6 745.2,812.5 746.2,812.5 747.2,811.8 748.2,811.3 749.2,811.3 750.2,811.6 751.2,811.5 752.2,811.4 753.2,811.8 754.2,811.8 755.1,811.7 756.1,811.7 757.1,812.0 758.1,811.9 759.1,811.9 760.1,811.8 761.1,811.8 762.1,809.9 763.1,809.8 764.1,809.8 765.1,809.7 766.1,810.8 767.0,810.8 768.0,810.4 769.0,810.3 770.0,810.8 771.0,810.7 772.0,810.6 773.0,810.4 774.0,810.4 775.0,810.3 776.0,810.8 777.0,810.7 777.9,810.7 778.9,810.6 779.9,810.5 780.9,810.5 781.9,810.4 782.9,810.4 783.9,809.2 784.9,809.2 785.9,809.1 786.9,809.8 787.9,809.5 788.8,809.5 789.8,809.4 790.8,809.4 791.8,808.8 792.8,808.8 793.8,809.9 794.8,809.8 795.8,809.8 796.8,809.7 797.8,809.7 798.8,809.6 799.7,809.6 800.7,808.8 801.7,808.5 802.7,808.5 803.7,809.3 804.7,809.2 805.7,809.0 806.7,809.0 807.7,809.0 808.7,808.9 809.7,809.2 810.6,809.2 811.6,809.0 812.6,808.9 813.6,808.9 814.6,808.0 815.6,808.0 816.6,807.9 817.6,807.1 818.6,807.1 819.6,807.7 820.6,807.7 821.5,807.6 822.5,807.8 823.5,807.7 824.5,807.7 825.5,808.2 826.5,808.1 827.5,808.1 828.5,808.0 829.5,807.9 830.5,807.9 831.5,807.8 832.4,807.8 833.4,807.9 834.4,807.9 835.4,807.9 836.4,807.8 837.4,808.0 838.4,807.9 839.4,807.9 840.4,807.6 841.4,807.6 842.4,807.5 843.3,807.6 844.3,807.6 845.3,807.6 846.3,807.5 847.3,806.7 848.3,806.6 849.3,807.2 850.3,807.2 851.3,807.1 852.3,807.1 853.3,806.9 854.2,807.3 855.2,807.2 856.2,806.2 857.2,806.1 858.2,807.0 859.2,807.0 860.2,806.4 861.2,806.3 862.2,806.3 863.2,806.2 864.2,805.9 865.2,805.9 866.1,805.9 867.1,805.8 868.1,805.3 869.1,805.2 870.1,806.7 871.1,806.6 872.1,806.6 873.1,806.6 874.1,805.5 875.1,805.4 876.1,805.4 877.0,805.0 878.0,805.0 879.0,805.0 880.0,804.9 881.0,805.2 882.0,805.0 883.0,803.5 884.0,803.3 885.0,803.2 886.0,803.0 887.0,803.8 887.9,803.6 888.9,803.5 889.9,804.8 890.9,804.6 891.9,804.5 892.9,804.3 893.9,804.2 894.9,804.0 895.9,803.8 896.9,803.0 897.9,802.9 898.8,802.9 899.8,802.8 900.8,802.4 901.8,802.3 902.8,802.3 903.8,802.8 904.8,802.8 905.8,801.7 906.8,802.5 907.8,802.3 908.8,802.2 909.7,801.4 910.7,801.4 911.7,801.3 912.7,802.9 913.7,802.8 914.7,802.8 915.7,801.6 916.7,801.6 917.7,801.5 918.7,802.3 919.7,801.1 920.6,801.1 921.6,801.7 922.6,801.7 923.6,801.7 924.6,801.6 925.6,802.1 926.6,802.1 927.6,802.0 928.6,802.0 929.6,801.8 930.6,801.8 931.5,801.1 932.5,801.2 933.5,801.2 934.5,801.1 935.5,801.5 936.5,800.6 937.5,800.6 938.5,800.5 939.5,800.5 940.5,801.5 941.5,801.3 942.4,801.2 943.4,801.2 944.4,800.1 945.4,800.0 946.4,800.0 947.4,799.9 948.4,800.6 949.4,800.5 950.4,800.5 951.4,800.5 952.4,800.3 953.4,800.3 954.3,800.9 955.3,800.9 956.3,800.8 957.3,800.8 958.3,801.2 959.3,800.6 960.3,800.6 961.3,800.6 962.3,800.6 963.3,800.6 964.3,800.5 965.2,800.2 966.2,800.2 967.2,800.2 968.2,800.6 969.2,800.5 970.2,800.5 971.2,800.5 972.2,800.2 973.2,800.6 974.2,800.2 975.2,799.9 976.1,799.9 977.1,799.8 978.1,800.0 979.1,799.8 980.1,799.8 981.1,800.8 982.1,800.6 983.1,800.6 984.1,799.9 985.1,799.9 986.1,799.9 987.0,799.6 988.0,799.6 989.0,799.6 990.0,800.0 991.0,799.9 992.0,799.9 993.0,799.8 994.0,800.3 995.0,800.2 996.0,799.3 997.0,799.2 997.9,799.2 998.9,799.4 999.9,799.8 1000.9,799.8 1001.9,799.7 1002.9,799.6 1003.9,799.6 1004.9,799.5 1005.9,799.5 1006.9,798.2 1007.9,798.2 1008.8,798.1 1009.8,799.0 1010.8,798.9 1011.8,798.9 1012.8,799.5 1013.8,799.5 1014.8,798.6 1015.8,798.5 1016.8,798.5 1017.8,798.0 1018.8,797.9 1019.7,798.9 1020.7,798.5 1021.7,798.2 1022.7,798.1 1023.7,798.1 1024.7,798.0 1025.7,798.2 1026.7,798.5 1027.7,798.6 1028.7,798.5 1029.7,798.3 1030.6,797.8 1031.6,797.8 1032.6,797.8 1033.6,797.7 1034.6,797.7 1035.6,797.8 1036.6,797.8 1037.6,797.4 1038.6,797.4 1039.6,798.3 1040.6,797.7 1041.5,797.6 1042.5,797.6 1043.5,797.6 1044.5,797.0 1045.5,797.4 1046.5,797.4 1047.5,797.4 1048.5,797.8 1049.5,797.8 1050.5,798.2 1051.5,798.2 1052.5,798.2 1053.4,797.3 1054.4,797.3 1055.4,797.3 1056.4,798.3 1057.4,798.2 1058.4,798.2 1059.4,798.2 1060.4,798.2 1061.4,797.3 1062.4,797.9 1063.4,797.9 1064.3,797.9 1065.3,797.9 1066.3,798.1 1067.3,798.2 1068.3,798.2 1069.3,798.2 1070.3,798.2 1071.3,796.5 1072.3,796.5 1073.3,796.5 1074.3,796.5 1075.2,797.3 1076.2,797.4 1077.2,797.3 1078.2,798.1 1079.2,798.1 1080.2,798.1 1081.2,798.1 1082.2,798.0 1083.2,797.0 1084.2,797.0 1085.2,797.0 1086.1,797.0 1087.1,798.0 1088.1,797.6 1089.1,797.6 1090.1,797.6 1091.1,797.6 1092.1,796.7 1093.1,798.0 1094.1,798.0 1095.1,798.0 1096.1,797.9 1097.0,797.9 1098.0,797.6 1099.0,797.8 1100.0,797.8 1101.0,797.8 1102.0,797.9 1103.0,796.9 1104.0,797.0 1105.0,797.4 1106.0,797.4 1107.0,797.8 1107.9,797.9 1108.9,797.9 1109.9,798.0 1110.9,798.0 1111.9,797.2 1112.9,797.2 1113.9,797.3 1114.9,797.3 1115.9,797.5 1116.9,796.8 1117.9,798.3 1118.8,798.5 1119.8,798.5 1120.8,798.5 1121.8,798.6 1122.8,798.0 1123.8,798.1 1124.8,797.3 1125.8,797.3 1126.8,797.3 1127.8,797.4 1128.8,798.1 1129.7,798.2 1130.7,798.2 1131.7,798.2 1132.7,798.4 1133.7,798.4 1134.7,798.4 1135.7,798.4 1136.7,798.7 1137.7,798.5 1138.7,798.6 1139.7,798.6 1140.6,798.5 1141.6,798.6 1142.6,798.6 1143.6,798.6 1144.6,799.0 1145.6,799.0 1146.6,799.1 1147.6,799.1 1148.6,798.1 1149.6,798.1 1150.6,798.1 1151.6,798.2 1152.5,798.2 1153.5,798.1 1154.5,799.0 1155.5,799.0 1156.5,799.0 1157.5,798.7 1158.5,798.4 1159.5,798.3 1160.5,798.3 1161.5,797.8 1162.5,797.7 1163.4,797.7 1164.4,797.7 1165.4,798.0 1166.4,798.0 1167.4,797.9 1168.4,797.9 1169.4,798.4 1170.4,798.4 1171.4,798.3 1172.4,798.3 1173.4,796.8 1174.3,796.8 1175.3,796.7 1176.3,796.7 1177.3,797.1 1178.3,797.0 1179.3,797.0 1180.3,797.8 1181.3,797.8 1182.3,797.7 1183.3,797.2 1184.3,797.2 1185.2,797.2 1186.2,797.1 1187.2,796.7 1188.2,796.1 1189.2,796.0 1190.2,796.0 1191.2,796.8 1192.2,796.8 1193.2,796.1 1194.2,796.1 1195.2,796.1 1196.1,795.9 1197.1,795.8 1198.1,795.8 1199.1,795.7 1200.1,797.1 1201.1,797.1 1202.1,797.1 1203.1,796.2 1204.1,796.2 1205.1,796.2 1206.1,796.2 1207.0,797.1 1208.0,797.1 1209.0,797.1 1210.0,797.1 1211.0,796.8 1212.0,796.8 1213.0,795.9 1214.0,795.9 1215.0,795.9 1216.0,796.2 1217.0,796.2 1217.9,796.2 1218.9,796.2 1219.9,796.5 1220.9,796.5 1221.9,796.2 1222.9,796.8 1223.9,796.8 1224.9,796.8 1225.9,796.8 1226.9,796.9 1227.9,796.9 1228.8,796.9 1229.8,797.2 1230.8,797.2 1231.8,797.2 1232.8,797.2 1233.8,796.1 1234.8,796.1 1235.8,796.1 1236.8,796.1 1237.8,796.1 1238.8,797.1 1239.7,797.1 1240.7,797.1 1241.7,797.1 1242.7,797.1 1243.7,796.8 1244.7,796.8 1245.7,796.8 1246.7,796.6 1247.7,796.6 1248.7,796.9 1249.7,796.9 1250.7,794.3 1251.6,794.3 1252.6,794.3 1253.6,796.3 1254.6,796.5 1255.6,796.4 1256.6,796.4 1257.6,797.0 1258.6,797.0 1259.6,796.9 1260.6,796.8 1261.6,796.4 1262.5,796.4 1263.5,796.4 1264.5,796.4 1265.5,796.5 1266.5,796.5 1267.5,796.7 1268.5,796.6 1269.5,796.6 1270.5,796.6 1271.5,795.1 1272.5,795.2 1273.4,795.1 1274.4,796.1 1275.4,796.0 1276.4,796.0 1277.4,796.0 1278.4,796.0 1279.4,795.7 1280.4,795.7 1281.4,795.7 1282.4,795.6 1283.4,796.0 1284.3,796.0 1285.3,796.0 1286.3,796.1 1287.3,796.0 1288.3,796.0 1289.3,796.0 1290.3,794.4 1291.3,795.9 1292.3,795.9 1293.3,795.9 1294.3,795.8 1295.2,794.7 1296.2,795.3 1297.2,795.2 1298.2,795.2 1299.2,795.5 1300.2,795.2 1301.2,795.2 1302.2,795.2 1303.2,795.2 1304.2,795.1 1305.2,795.1 1306.1,795.0 1307.1,794.2 1308.1,794.2 1309.1,795.1 1310.1,795.7 1311.1,795.7 1312.1,795.7 1313.1,795.4 1314.1,795.6 1315.1,795.7 1316.1,795.7 1317.0,795.7 1318.0,795.7 1319.0,794.6 1320.0,795.1 1321.0,795.2 1322.0,795.2 1323.0,795.3 1324.0,795.3 1325.0,795.3 1326.0,795.3 1327.0,795.0 1327.9,794.8 1328.9,794.8 1329.9,794.8 1330.9,794.8 1331.9,795.5 1332.9,795.0 1333.9,795.0 1334.9,795.0 1335.9,795.0 1336.9,795.0 1337.9,795.0 1338.8,794.9 1339.8,793.7 1340.8,793.7 1341.8,793.7 1342.8,793.7 1343.8,795.5 1344.8,795.0 1345.8,795.0 1346.8,795.0 1347.8,795.0 1348.8,795.0 1349.8,795.3 1350.7,795.3 1351.7,795.1 1352.7,795.1 1353.7,795.1 1354.7,795.1 1355.7,793.3 1356.7,794.8 1357.7,794.8 1358.7,794.8 1359.7,794.8 1360.7,794.8 1361.6,794.8 1362.6,795.0 1363.6,795.0 1364.6,795.0 1365.6,794.6 1366.6,794.5 1367.6,794.7 1368.6,794.7 1369.6,794.2 1370.6,794.2 1371.6,794.2 1372.5,794.2 1373.5,795.0 1374.5,795.0 1375.5,795.3 1376.5,795.3 1377.5,795.2 1378.5,794.8 1379.5,795.1 1380.5,795.1 1381.5,795.1 1382.5,794.7 1383.4,794.7 1384.4,795.1 1385.4,795.0 1386.4,795.0 1387.4,794.6 1388.4,794.6 1389.4,794.6 1390.4,794.6 1391.4,795.3 1392.4,794.7 1393.4,794.7 1394.3,794.4 1395.3,794.4 1396.3,794.4 1397.3,794.4 1398.3,795.1 1399.3,795.1 1400.3,794.9 1401.3,794.8 1402.3,794.8 1403.3,794.4 1404.3,794.4 1405.2,794.7 1406.2,794.6 1407.2,794.2 1408.2,794.1 1409.2,794.3 1410.2,793.4 1411.2,793.3 1412.2,792.3 1413.2,793.4 1414.2,793.4 1415.2,793.9 1416.1,793.8 1417.1,793.8 1418.1,793.7 1419.1,792.3 1420.1,792.3 1421.1,792.2 1422.1,793.8 1423.1,793.7 1424.1,793.5 1425.1,793.5 1426.1,793.4 1427.0,793.3 1428.0,793.2 1429.0,793.2 1430.0,793.2 1431.0,793.1 1432.0,792.5 1433.0,792.4 1434.0,792.6 1435.0,792.1 1436.0,791.4 1437.0,791.3 1437.9,791.1 1438.9,791.2 1439.9,791.1 1440.9,791.5 1441.9,791.4 1442.9,790.4 1443.9,790.3 1444.9,790.2 1445.9,791.1 1446.9,791.0 1447.9,790.9 1448.8,790.8 1449.8,790.4 1450.8,789.9 1451.8,789.8 1452.8,789.8 1453.8,790.5 1454.8,790.5 1455.8,790.5 1456.8,790.5 1457.8,789.8 1458.8,789.8 1459.8,789.8 1460.7,789.8 1461.7,790.0 1462.7,790.0 1463.7,790.0 1464.7,790.0 1465.7,790.0 1466.7,789.9 1467.7,789.9 1468.7,789.1 1469.7,790.1 1470.7,790.1 1471.6,790.1 1472.6,789.4 1473.6,790.2 1474.6,789.9 1475.6,789.9 1476.6,789.9 1477.6,789.8 1478.6,789.8 1479.6,789.7 1480.6,789.7 1481.6,788.5 1482.5,788.5 1483.5,788.5 1484.5,789.3 1485.5,789.2 1486.5,789.9 1487.5,789.9 1488.5,787.8 1489.5,787.8 1490.5,789.8 1491.5,789.8 1492.5,789.7 1493.4,789.4 1494.4,788.9 1495.4,788.9 1496.4,789.2 1497.4,789.2 1498.4,789.2 1498.4,973.6 1497.4,973.6 1496.4,972.6 1495.4,972.6 1494.4,972.6 1493.4,972.7 1492.5,972.7 1491.5,972.7 1490.5,972.7 1489.5,972.4 1488.5,972.4 1487.5,972.4 1486.5,973.5 1485.5,972.4 1484.5,972.4 1483.5,972.4 1482.5,972.4 1481.6,974.4 1480.6,974.4 1479.6,972.3 1478.6,972.3 1477.6,972.3 1476.6,972.3 1475.6,973.3 1474.6,973.3 1473.6,973.3 1472.6,973.3 1471.6,972.1 1470.7,972.1 1469.7,972.1 1468.7,972.1 1467.7,972.1 1466.7,972.1 1465.7,972.1 1464.7,972.1 1463.7,972.1 1462.7,973.6 1461.7,973.6 1460.7,973.6 1459.8,972.3 1458.8,972.3 1457.8,972.3 1456.8,972.3 1455.8,973.8 1454.8,973.8 1453.8,973.2 1452.8,973.2 1451.8,973.2 1450.8,973.2 1449.8,973.6 1448.8,972.6 1447.9,972.2 1446.9,972.2 1445.9,972.2 1444.9,972.2 1443.9,972.3 1442.9,972.3 1441.9,972.3 1440.9,972.3 1439.9,972.6 1438.9,972.4 1437.9,972.2 1437.0,972.0 1436.0,971.4 1435.0,971.2 1434.0,971.0 1433.0,970.8 1432.0,970.4 1431.0,970.2 1430.0,971.5 1429.0,970.2 1428.0,970.0 1427.0,970.6 1426.1,970.4 1425.1,970.2 1424.1,970.0 1423.1,968.9 1422.1,968.4 1421.1,968.2 1420.1,968.0 1419.1,967.8 1418.1,968.2 1417.1,968.0 1416.1,967.8 1415.2,967.1 1414.2,966.9 1413.2,966.7 1412.2,967.5 1411.2,967.3 1410.2,967.1 1409.2,967.1 1408.2,967.0 1407.2,966.9 1406.2,966.7 1405.2,966.6 1404.3,966.5 1403.3,966.7 1402.3,966.6 1401.3,966.5 1400.3,965.8 1399.3,965.7 1398.3,965.3 1397.3,965.2 1396.3,965.5 1395.3,965.4 1394.3,965.3 1393.4,965.2 1392.4,965.8 1391.4,965.4 1390.4,965.3 1389.4,965.1 1388.4,965.3 1387.4,965.5 1386.4,965.7 1385.4,965.1 1384.4,965.3 1383.4,965.5 1382.5,967.7 1381.5,967.9 1380.5,967.6 1379.5,967.7 1378.5,967.6 1377.5,967.6 1376.5,966.8 1375.5,965.8 1374.5,965.8 1373.5,965.7 1372.5,965.9 1371.6,969.0 1370.6,969.0 1369.6,969.0 1368.6,968.9 1367.6,965.8 1366.6,966.2 1365.6,965.5 1364.6,965.5 1363.6,965.4 1362.6,965.4 1361.6,965.8 1360.7,965.8 1359.7,965.8 1358.7,965.7 1357.7,965.5 1356.7,965.5 1355.7,965.4 1354.7,965.4 1353.7,965.0 1352.7,965.0 1351.7,965.0 1350.7,965.3 1349.8,965.3 1348.8,965.2 1347.8,965.1 1346.8,965.0 1345.8,964.8 1344.8,964.8 1343.8,964.7 1342.8,965.0 1341.8,964.9 1340.8,964.9 1339.8,964.9 1338.8,964.5 1337.9,964.5 1336.9,964.5 1335.9,964.4 1334.9,964.5 1333.9,964.5 1332.9,964.4 1331.9,964.4 1330.9,964.3 1329.9,964.3 1328.9,964.3 1327.9,964.2 1327.0,964.2 1326.0,964.2 1325.0,964.2 1324.0,964.1 1323.0,964.0 1322.0,964.5 1321.0,964.5 1320.0,964.4 1319.0,963.6 1318.0,963.5 1317.0,963.4 1316.1,963.4 1315.1,963.3 1314.1,963.3 1313.1,964.5 1312.1,964.5 1311.1,964.3 1310.1,964.2 1309.1,964.2 1308.1,964.2 1307.1,963.4 1306.1,963.3 1305.2,963.5 1304.2,963.5 1303.2,963.5 1302.2,963.2 1301.2,963.1 1300.2,963.1 1299.2,962.6 1298.2,962.5 1297.2,962.3 1296.2,963.0 1295.2,962.9 1294.3,962.8 1293.3,964.6 1292.3,964.4 1291.3,961.9 1290.3,961.7 1289.3,961.3 1288.3,961.1 1287.3,961.0 1286.3,961.5 1285.3,961.4 1284.3,961.3 1283.4,961.1 1282.4,960.7 1281.4,960.5 1280.4,960.8 1279.4,961.8 1278.4,962.1 1277.4,962.5 1276.4,962.9 1275.4,961.9 1274.4,962.2 1273.4,962.6 1272.5,963.0 1271.5,964.2 1270.5,964.5 1269.5,964.7 1268.5,964.6 1267.5,964.6 1266.5,964.5 1265.5,964.4 1264.5,963.7 1263.5,963.6 1262.5,964.2 1261.6,964.1 1260.6,964.0 1259.6,964.0 1258.6,963.1 1257.6,963.1 1256.6,963.0 1255.6,962.8 1254.6,962.7 1253.6,962.7 1252.6,963.5 1251.6,963.4 1250.7,963.4 1249.7,962.5 1248.7,962.8 1247.7,962.8 1246.7,962.8 1245.7,963.1 1244.7,963.1 1243.7,963.0 1242.7,962.4 1241.7,962.4 1240.7,962.4 1239.7,962.4 1238.8,964.1 1237.8,964.1 1236.8,964.0 1235.8,964.0 1234.8,963.9 1233.8,963.9 1232.8,962.7 1231.8,962.7 1230.8,962.7 1229.8,962.1 1228.8,962.9 1227.9,962.9 1226.9,963.3 1225.9,963.3 1224.9,963.2 1223.9,963.2 1222.9,962.8 1221.9,962.2 1220.9,962.2 1219.9,961.9 1218.9,961.9 1217.9,963.0 1217.0,962.2 1216.0,962.2 1215.0,963.6 1214.0,963.6 1213.0,963.6 1212.0,963.5 1211.0,962.8 1210.0,962.8 1209.0,962.7 1208.0,962.7 1207.0,962.3 1206.1,962.2 1205.1,962.2 1204.1,963.1 1203.1,963.1 1202.1,963.1 1201.1,963.7 1200.1,963.7 1199.1,962.9 1198.1,962.8 1197.1,962.8 1196.1,962.7 1195.2,962.7 1194.2,962.6 1193.2,961.7 1192.2,961.7 1191.2,961.6 1190.2,962.0 1189.2,962.0 1188.2,961.5 1187.2,961.4 1186.2,961.9 1185.2,961.9 1184.3,961.8 1183.3,962.3 1182.3,961.4 1181.3,961.0 1180.3,960.9 1179.3,960.9 1178.3,960.9 1177.3,961.7 1176.3,961.2 1175.3,961.1 1174.3,961.1 1173.4,960.5 1172.4,961.0 1171.4,961.0 1170.4,960.9 1169.4,960.9 1168.4,960.5 1167.4,960.5 1166.4,960.4 1165.4,960.4 1164.4,960.3 1163.4,960.3 1162.5,960.6 1161.5,960.5 1160.5,960.8 1159.5,960.8 1158.5,960.7 1157.5,960.7 1156.5,960.4 1155.5,960.3 1154.5,960.3 1153.5,960.4 1152.5,960.3 1151.6,959.4 1150.6,959.4 1149.6,960.4 1148.6,960.4 1147.6,960.0 1146.6,960.0 1145.6,960.0 1144.6,960.0 1143.6,960.6 1142.6,960.6 1141.6,960.5 1140.6,959.8 1139.7,959.8 1138.7,959.3 1137.7,959.3 1136.7,959.3 1135.7,959.3 1134.7,960.6 1133.7,960.5 1132.7,960.5 1131.7,960.5 1130.7,959.2 1129.7,959.2 1128.8,959.2 1127.8,958.6 1126.8,958.6 1125.8,958.9 1124.8,958.8 1123.8,960.1 1122.8,960.0 1121.8,960.0 1120.8,959.3 1119.8,959.2 1118.8,959.2 1117.9,959.2 1116.9,958.7 1115.9,958.6 1114.9,959.2 1113.9,959.2 1112.9,959.2 1111.9,959.1 1110.9,958.7 1109.9,958.7 1108.9,958.4 1107.9,958.4 1107.0,958.4 1106.0,958.4 1105.0,958.4 1104.0,958.3 1103.0,958.3 1102.0,958.2 1101.0,958.5 1100.0,958.5 1099.0,958.5 1098.0,958.5 1097.0,958.6 1096.1,958.6 1095.1,958.6 1094.1,958.6 1093.1,958.5 1092.1,958.5 1091.1,958.5 1090.1,958.9 1089.1,958.9 1088.1,958.3 1087.1,958.3 1086.1,960.2 1085.2,958.9 1084.2,958.9 1083.2,958.9 1082.2,958.9 1081.2,959.2 1080.2,959.2 1079.2,959.2 1078.2,959.2 1077.2,958.2 1076.2,958.2 1075.2,958.6 1074.3,958.9 1073.3,958.9 1072.3,958.9 1071.3,958.9 1070.3,958.3 1069.3,958.3 1068.3,958.3 1067.3,960.4 1066.3,960.4 1065.3,960.4 1064.3,960.4 1063.4,959.5 1062.4,959.5 1061.4,959.5 1060.4,959.0 1059.4,959.0 1058.4,958.5 1057.4,959.0 1056.4,959.0 1055.4,959.4 1054.4,959.4 1053.4,959.4 1052.5,959.4 1051.5,958.5 1050.5,959.7 1049.5,958.8 1048.5,960.3 1047.5,960.3 1046.5,960.3 1045.5,959.9 1044.5,958.7 1043.5,958.5 1042.5,958.5 1041.5,958.5 1040.6,959.4 1039.6,959.4 1038.6,958.6 1037.6,958.6 1036.6,959.3 1035.6,959.4 1034.6,958.3 1033.6,958.3 1032.6,958.2 1031.6,958.2 1030.6,958.3 1029.7,958.3 1028.7,958.3 1027.7,958.3 1026.7,959.2 1025.7,958.7 1024.7,958.2 1023.7,958.1 1022.7,958.6 1021.7,958.8 1020.7,958.8 1019.7,957.9 1018.8,957.9 1017.8,957.9 1016.8,957.7 1015.8,957.8 1014.8,957.4 1013.8,957.4 1012.8,957.3 1011.8,957.4 1010.8,957.9 1009.8,957.9 1008.8,957.9 1007.9,957.9 1006.9,958.6 1005.9,957.4 1004.9,957.3 1003.9,957.3 1002.9,957.4 1001.9,957.4 1000.9,957.3 999.9,959.0 998.9,958.9 997.9,959.9 997.0,959.8 996.0,958.2 995.0,958.1 994.0,958.0 993.0,958.0 992.0,956.5 991.0,956.4 990.0,956.4 989.0,956.8 988.0,956.7 987.0,956.7 986.1,956.9 985.1,956.8 984.1,956.7 983.1,956.6 982.1,957.5 981.1,957.5 980.1,956.3 979.1,955.9 978.1,955.8 977.1,955.8 976.1,956.7 975.2,956.6 974.2,956.5 973.2,956.5 972.2,955.9 971.2,955.8 970.2,956.1 969.2,956.1 968.2,955.4 967.2,956.4 966.2,956.3 965.2,955.4 964.3,955.3 963.3,955.2 962.3,955.2 961.3,955.2 960.3,955.2 959.3,955.1 958.3,955.2 957.3,955.1 956.3,955.0 955.3,955.0 954.3,955.6 953.4,955.6 952.4,955.5 951.4,955.5 950.4,954.1 949.4,954.1 948.4,954.0 947.4,954.9 946.4,954.8 945.4,954.7 944.4,954.7 943.4,954.4 942.4,953.5 941.5,954.0 940.5,953.9 939.5,953.8 938.5,953.3 937.5,953.3 936.5,953.2 935.5,953.7 934.5,953.6 933.5,952.8 932.5,952.7 931.5,953.1 930.6,953.0 929.6,952.9 928.6,952.3 927.6,952.2 926.6,952.1 925.6,952.1 924.6,953.7 923.6,953.7 922.6,953.6 921.6,953.5 920.6,952.7 919.7,952.6 918.7,952.6 917.7,951.7 916.7,951.7 915.7,951.6 914.7,951.5 913.7,952.5 912.7,952.4 911.7,952.4 910.7,952.0 909.7,951.9 908.8,951.8 907.8,951.5 906.8,951.4 905.8,951.3 904.8,951.3 903.8,951.0 902.8,952.5 901.8,952.4 900.8,952.3 899.8,952.3 898.8,952.9 897.9,952.8 896.9,950.1 895.9,950.0 894.9,950.0 893.9,949.9 892.9,949.9 891.9,951.4 890.9,951.4 889.9,951.3 888.9,951.2 887.9,949.9 887.0,949.8 886.0,950.6 885.0,950.5 884.0,950.5 883.0,949.8 882.0,949.7 881.0,949.7 880.0,949.6 879.0,949.9 878.0,949.8 877.0,949.7 876.1,949.3 875.1,949.3 874.1,948.8 873.1,948.7 872.1,948.7 871.1,948.6 870.1,950.1 869.1,950.1 868.1,949.2 867.1,949.2 866.1,948.8 865.2,948.8 864.2,948.7 863.2,948.7 862.2,948.6 861.2,948.7 860.2,949.7 859.2,948.4 858.2,948.3 857.2,948.2 856.2,948.1 855.2,948.8 854.2,948.7 853.3,948.7 852.3,947.5 851.3,947.5 850.3,947.4 849.3,948.3 848.3,948.3 847.3,948.0 846.3,947.9 845.3,947.9 844.3,947.9 843.3,947.1 842.4,947.0 841.4,947.0 840.4,947.0 839.4,947.7 838.4,947.8 837.4,947.7 836.4,947.7 835.4,948.4 834.4,948.3 833.4,948.3 832.4,947.1 831.5,947.1 830.5,947.0 829.5,947.0 828.5,947.7 827.5,947.7 826.5,947.6 825.5,947.6 824.5,947.1 823.5,947.0 822.5,946.6 821.5,946.6 820.6,946.5 819.6,946.9 818.6,946.5 817.6,946.4 816.6,946.4 815.6,946.3 814.6,946.3 813.6,946.3 812.6,946.2 811.6,946.5 810.6,946.5 809.7,946.4 808.7,946.4 807.7,946.9 806.7,946.8 805.7,946.1 804.7,946.0 803.7,946.0 802.7,945.8 801.7,945.7 800.7,945.6 799.7,945.6 798.8,945.3 797.8,945.8 796.8,945.7 795.8,945.7 794.8,945.7 793.8,945.7 792.8,946.2 791.8,946.0 790.8,946.0 789.8,945.9 788.8,947.0 787.9,945.6 786.9,945.3 785.9,945.7 784.9,945.7 783.9,945.6 782.9,945.6 781.9,946.1 780.9,946.1 779.9,945.0 778.9,945.0 777.9,944.9 777.0,944.8 776.0,944.8 775.0,944.7 774.0,944.8 773.0,944.8 772.0,944.7 771.0,945.3 770.0,945.3 769.0,945.2 768.0,945.1 767.0,944.3 766.1,944.2 765.1,946.7 764.1,946.6 763.1,946.6 762.1,945.7 761.1,945.7 760.1,945.7 759.1,944.5 758.1,944.9 757.1,944.8 756.1,944.8 755.1,945.2 754.2,945.2 753.2,945.1 752.2,945.1 751.2,943.4 750.2,943.4 749.2,943.3 748.2,943.6 747.2,943.5 746.2,943.5 745.2,943.9 744.2,943.9 743.3,943.9 742.3,943.8 741.3,944.1 740.3,944.6 739.3,944.6 738.3,944.5 737.3,944.5 736.3,943.7 735.3,943.7 734.3,943.6 733.3,943.6 732.4,943.0 731.4,942.9 730.4,942.9 729.4,942.8 728.4,942.7 727.4,942.7 726.4,942.6 725.4,942.6 724.4,942.5 723.4,942.5 722.4,942.5 721.5,942.4 720.5,942.1 719.5,942.1 718.5,942.0 717.5,942.4 716.5,942.3 715.5,942.3 714.5,942.2 713.5,942.1 712.5,942.1 711.5,941.7 710.6,941.7 709.6,941.6 708.6,942.9 707.6,942.9 706.6,942.8 705.6,942.8" fill="#5a88d5"/>
<line x1="914.00" y1="803.93" x2="914.00" y2="951.18" stroke="#3f70d2" stroke-width="1.3" />
<line x1="961.00" y1="802.13" x2="961.00" y2="954.43" stroke="#8a82e0" stroke-width="1.3" />
<line x1="1127.00" y1="799.70" x2="1127.00" y2="958.54" stroke="#3f70d2" stroke-width="1.3" />
<line x1="1188.00" y1="798.78" x2="1188.00" y2="961.05" stroke="#8a82e0" stroke-width="1.3" />
<line x1="1324.00" y1="796.68" x2="1324.00" y2="963.66" stroke="#3f70d2" stroke-width="1.3" />
<line x1="1391.60" y1="796.34" x2="1391.60" y2="964.16" stroke="#8a82e0" stroke-width="1.3" />
<line x1="737.00" y1="791.00" x2="737.00" y2="808.00" stroke="#3b97cc" stroke-width="1.8" />
<line x1="856.00" y1="791.00" x2="856.00" y2="802.00" stroke="#3b97cc" stroke-width="1.8" />
<line x1="1119.50" y1="795.00" x2="1119.50" y2="800.00" stroke="#3b97cc" stroke-width="1.8" />
<line x1="1443.00" y1="785.00" x2="1443.00" y2="795.00" stroke="#4a80d6" stroke-width="1.8" />
<line x1="1152.00" y1="787.00" x2="1152.00" y2="800.00" stroke="#ead6fc" stroke-width="1.8" />
<line x1="989.00" y1="795.00" x2="989.00" y2="801.00" stroke="#ead6fc" stroke-width="1.8" />
<line x1="946.50" y1="956.00" x2="946.50" y2="966.00" stroke="#ead6fc" stroke-width="1.8" />
<line x1="847.00" y1="957.00" x2="847.00" y2="964.00" stroke="#ead6fc" stroke-width="1.8" />
</g>
<rect x="705.6" y="636.2" width="792.8000000000001" height="389.79999999999995" fill="none" stroke="#000" stroke-width="2.2"/>
<line x1="701.80" y1="1019.50" x2="705.60" y2="1019.50" stroke="#000" stroke-width="2.2" />
<line x1="698.40" y1="987.50" x2="705.60" y2="987.50" stroke="#000" stroke-width="2.2" />
<text transform="translate(694.77,997.90) scale(1,1.07)" font-size="32.4" text-anchor="end" fill="#000" >0.0</text>
<line x1="701.80" y1="955.50" x2="705.60" y2="955.50" stroke="#000" stroke-width="2.2" />
<line x1="698.40" y1="923.50" x2="705.60" y2="923.50" stroke="#000" stroke-width="2.2" />
<text transform="translate(694.86,933.90) scale(1,1.07)" font-size="32.4" text-anchor="end" fill="#000" >0.5</text>
<line x1="701.80" y1="891.50" x2="705.60" y2="891.50" stroke="#000" stroke-width="2.2" />
<line x1="698.40" y1="859.50" x2="705.60" y2="859.50" stroke="#000" stroke-width="2.2" />
<text transform="translate(694.77,869.90) scale(1,1.07)" font-size="32.4" text-anchor="end" fill="#000" >1.0</text>
<line x1="701.80" y1="827.50" x2="705.60" y2="827.50" stroke="#000" stroke-width="2.2" />
<line x1="698.40" y1="795.50" x2="705.60" y2="795.50" stroke="#000" stroke-width="2.2" />
<text transform="translate(694.86,805.90) scale(1,1.07)" font-size="32.4" text-anchor="end" fill="#000" >1.5</text>
<line x1="701.80" y1="763.50" x2="705.60" y2="763.50" stroke="#000" stroke-width="2.2" />
<line x1="698.40" y1="731.50" x2="705.60" y2="731.50" stroke="#000" stroke-width="2.2" />
<text transform="translate(694.77,741.90) scale(1,1.07)" font-size="32.4" text-anchor="end" fill="#000" >2.0</text>
<line x1="701.80" y1="699.50" x2="705.60" y2="699.50" stroke="#000" stroke-width="2.2" />
<line x1="698.40" y1="667.50" x2="705.60" y2="667.50" stroke="#000" stroke-width="2.2" />
<text transform="translate(694.86,677.90) scale(1,1.07)" font-size="32.4" text-anchor="end" fill="#000" >2.5</text>
<line x1="705.60" y1="1026.00" x2="705.60" y2="1032.50" stroke="#000" stroke-width="2.2" />
<text transform="translate(696.59,1062.30) scale(1,1.07)" font-size="32.4" text-anchor="start" fill="#000" >0</text>
<line x1="758.04" y1="1026.00" x2="758.04" y2="1029.80" stroke="#000" stroke-width="2.2" />
<line x1="810.47" y1="1026.00" x2="810.47" y2="1032.50" stroke="#000" stroke-width="2.2" />
<text transform="translate(792.30,1062.30) scale(1,1.07)" font-size="32.4" text-anchor="start" fill="#000" >75</text>
<line x1="862.91" y1="1026.00" x2="862.91" y2="1029.80" stroke="#000" stroke-width="2.2" />
<line x1="915.35" y1="1026.00" x2="915.35" y2="1032.50" stroke="#000" stroke-width="2.2" />
<text transform="translate(887.71,1062.30) scale(1,1.07)" font-size="32.4" text-anchor="start" fill="#000" >150</text>
<line x1="967.78" y1="1026.00" x2="967.78" y2="1029.80" stroke="#000" stroke-width="2.2" />
<line x1="1020.22" y1="1026.00" x2="1020.22" y2="1032.50" stroke="#000" stroke-width="2.2" />
<text transform="translate(993.05,1062.30) scale(1,1.07)" font-size="32.4" text-anchor="start" fill="#000" >225</text>
<line x1="1072.65" y1="1026.00" x2="1072.65" y2="1029.80" stroke="#000" stroke-width="2.2" />
<line x1="1125.09" y1="1026.00" x2="1125.09" y2="1032.50" stroke="#000" stroke-width="2.2" />
<text transform="translate(1098.08,1062.30) scale(1,1.07)" font-size="32.4" text-anchor="start" fill="#000" >300</text>
<line x1="1177.53" y1="1026.00" x2="1177.53" y2="1029.80" stroke="#000" stroke-width="2.2" />
<line x1="1229.96" y1="1026.00" x2="1229.96" y2="1032.50" stroke="#000" stroke-width="2.2" />
<text transform="translate(1203.00,1062.30) scale(1,1.07)" font-size="32.4" text-anchor="start" fill="#000" >375</text>
<line x1="1282.40" y1="1026.00" x2="1282.40" y2="1029.80" stroke="#000" stroke-width="2.2" />
<line x1="1334.84" y1="1026.00" x2="1334.84" y2="1032.50" stroke="#000" stroke-width="2.2" />
<text transform="translate(1308.07,1062.30) scale(1,1.07)" font-size="32.4" text-anchor="start" fill="#000" >450</text>
<line x1="1387.27" y1="1026.00" x2="1387.27" y2="1029.80" stroke="#000" stroke-width="2.2" />
<line x1="1439.71" y1="1026.00" x2="1439.71" y2="1032.50" stroke="#000" stroke-width="2.2" />
<text transform="translate(1412.71,1062.30) scale(1,1.07)" font-size="32.4" text-anchor="start" fill="#000" >525</text>
<line x1="1492.14" y1="1026.00" x2="1492.14" y2="1029.80" stroke="#000" stroke-width="2.2" />
<line x1="705.70" y1="636.20" x2="705.70" y2="642.20" stroke="#000" stroke-width="2.2" />
<text transform="translate(697.36,622.70) scale(1,1.04)" font-size="30" text-anchor="start" fill="#000" >0</text>
<line x1="800.87" y1="636.20" x2="800.87" y2="640.00" stroke="#000" stroke-width="2.2" />
<line x1="896.04" y1="636.20" x2="896.04" y2="642.20" stroke="#000" stroke-width="2.2" />
<text transform="translate(879.34,622.70) scale(1,1.04)" font-size="30" text-anchor="start" fill="#000" >50</text>
<line x1="991.20" y1="636.20" x2="991.20" y2="640.00" stroke="#000" stroke-width="2.2" />
<line x1="1086.37" y1="636.20" x2="1086.37" y2="642.20" stroke="#000" stroke-width="2.2" />
<text transform="translate(1060.79,622.70) scale(1,1.04)" font-size="30" text-anchor="start" fill="#000" >100</text>
<line x1="1181.54" y1="636.20" x2="1181.54" y2="640.00" stroke="#000" stroke-width="2.2" />
<line x1="1276.70" y1="636.20" x2="1276.70" y2="642.20" stroke="#000" stroke-width="2.2" />
<text transform="translate(1251.12,622.70) scale(1,1.04)" font-size="30" text-anchor="start" fill="#000" >150</text>
<line x1="1371.87" y1="636.20" x2="1371.87" y2="640.00" stroke="#000" stroke-width="2.2" />
<line x1="1467.04" y1="636.20" x2="1467.04" y2="642.20" stroke="#000" stroke-width="2.2" />
<text transform="translate(1441.84,622.70) scale(1,1.04)" font-size="30" text-anchor="start" fill="#000" >200</text>
<text transform="translate(1016.54,1110.00)" font-size="36" text-anchor="start" fill="#000" >Cycle number</text>
<text transform="translate(993.77,579.20)" font-size="36.2" text-anchor="start" fill="#000" >Cycle time (h)</text>
<text transform="translate(615.80,821.00) rotate(-90)" font-size="36.5" text-anchor="middle" fill="#000" >Voltage (V)</text>
<line x1="726.80" y1="994.70" x2="765.40" y2="994.70" stroke="#e6d2fa" stroke-width="2.6" />
<text transform="translate(771.68,1000.40) scale(1,1.075)" font-size="25.8" text-anchor="start" fill="#000" >HzOR-1</text>
<line x1="909.30" y1="994.70" x2="948.00" y2="994.70" stroke="#3a96cf" stroke-width="2.6" />
<text transform="translate(953.38,1000.40) scale(1,1.075)" font-size="25.8" text-anchor="start" fill="#000" >HzOR-2</text>
<text transform="translate(1301.09,1005.00) scale(1,1.05)" font-size="26.6" text-anchor="start" fill="#000" >4.29 mA cm</text>
<text transform="translate(1444.44,994.00) scale(1,1.05)" font-size="17" text-anchor="start" fill="#000" >-2</text>
<rect x="819.4" y="655.8" width="135.0" height="117.90000000000009" fill="#fff" stroke="#000" stroke-width="1.6"/>
<line x1="815.90" y1="758.96" x2="819.40" y2="758.96" stroke="#000" stroke-width="1.4" />
<text transform="translate(812.78,764.96) scale(1,1.04)" font-size="17.3" text-anchor="end" fill="#000" >0.0</text>
<line x1="817.40" y1="741.77" x2="819.40" y2="741.77" stroke="#000" stroke-width="1.4" />
<line x1="815.90" y1="724.58" x2="819.40" y2="724.58" stroke="#000" stroke-width="1.4" />
<text transform="translate(812.97,730.58) scale(1,1.04)" font-size="17.3" text-anchor="end" fill="#000" >0.7</text>
<line x1="817.40" y1="707.38" x2="819.40" y2="707.38" stroke="#000" stroke-width="1.4" />
<line x1="815.90" y1="690.19" x2="819.40" y2="690.19" stroke="#000" stroke-width="1.4" />
<text transform="translate(812.61,696.19) scale(1,1.04)" font-size="17.3" text-anchor="end" fill="#000" >1.4</text>
<line x1="817.40" y1="672.99" x2="819.40" y2="672.99" stroke="#000" stroke-width="1.4" />
<line x1="815.90" y1="655.80" x2="819.40" y2="655.80" stroke="#000" stroke-width="1.4" />
<text transform="translate(812.94,661.80) scale(1,1.04)" font-size="17.3" text-anchor="end" fill="#000" >2.1</text>
<text transform="translate(774.00,717.80) rotate(-90)" font-size="20.9" text-anchor="middle" fill="#000" >Voltage (V)</text>
<path d="M819.40,704.93 L819.95,709.57 L820.50,713.63 L821.05,717.17 L821.61,720.27 L822.16,722.97 L822.71,725.34 L823.26,727.40 L823.81,729.21 L824.36,730.78 L824.91,732.16 L825.46,733.37 L826.01,734.42 L826.57,735.35 L827.12,736.16 L827.67,736.87 L828.22,737.49 L828.77,738.03 L829.32,738.51 L829.87,738.93 L830.42,739.30 L830.98,739.62 L831.53,739.91 L832.08,740.16 L832.63,740.38 L833.18,740.58 L833.73,740.75 L834.28,740.91 L834.83,741.05 L835.39,741.17 L835.94,741.28 L836.49,741.38 L837.04,741.47 L837.59,741.55 L838.14,741.62 L838.69,741.68 L839.25,741.74 L839.80,741.80 L840.35,741.85 L840.90,741.90 L841.45,741.94 L842.00,741.98 L842.55,742.02 L843.10,742.05 L843.65,742.09 L844.21,742.12 L844.76,742.15 L845.31,742.18 L845.86,742.21 L846.41,742.23 L846.96,742.26 L847.51,742.29 L848.06,742.31 L848.62,742.34 L849.17,742.36 L849.72,742.38 L850.27,742.41 L850.82,742.43 L851.37,742.45 L851.92,742.47 L852.48,742.50 L853.03,742.52 L853.58,742.54 L854.13,742.56 L854.68,742.58 L855.23,742.60 L855.78,742.62 L856.33,742.64 L856.88,742.67 L857.44,742.69 L857.99,742.71 L858.54,742.73 L859.09,742.75 L859.64,742.77 L860.19,742.79 L860.74,742.81 L861.29,742.83 L861.85,742.85 L862.40,742.87 L862.95,742.89 L863.50,742.91 L864.05,742.93 L864.60,742.96 L865.15,742.98 L865.70,743.00 L866.26,743.02 L866.81,743.04 L867.36,743.06 L867.91,743.08 L868.46,743.10 L869.01,743.12 L869.56,743.14 L870.12,743.16 L870.67,743.18 L871.22,743.20 L871.77,743.22 L872.32,743.24 L872.87,743.26 L873.42,743.28 L873.97,743.30 L874.52,743.32 L875.08,743.34 L875.63,743.37 L876.18,743.39 L876.73,743.41 L877.28,743.43 L877.83,743.45 L878.38,743.47 L878.93,743.49 L879.49,743.51 L880.04,743.53 L880.59,743.55 L881.14,743.57 L881.69,743.59 L882.24,743.61 L882.79,743.63 L883.35,743.65 L883.90,743.67 L884.45,743.69 L885.00,743.71 L885.55,743.73 L887.17,695.10 L888.29,692.53 L889.41,690.91 L890.53,689.87 L891.65,689.21 L892.77,688.79 L893.89,688.51 L895.01,688.32 L896.13,688.20 L897.25,688.11 L898.38,688.05 L899.50,688.00 L900.62,687.95 L901.74,687.92 L902.86,687.89 L903.98,687.86 L905.10,687.83 L906.22,687.81 L907.34,687.78 L908.46,687.76 L909.58,687.73 L910.70,687.71 L911.82,687.68 L912.94,687.66 L914.06,687.63 L915.18,687.61 L916.30,687.58 L917.42,687.56 L918.54,687.53 L919.66,687.51 L920.78,687.49 L921.91,687.46 L923.03,687.44 L924.15,687.41 L925.27,687.39 L926.39,687.36 L927.51,687.34 L928.63,687.31 L929.75,687.29 L930.87,687.26 L931.99,687.24 L933.11,687.22 L934.23,687.19 L935.35,687.17 L936.47,687.14 L937.59,687.12 L938.71,687.09 L939.83,687.07 L940.95,687.04 L942.07,687.02 L943.19,686.99 L944.32,686.97 L945.44,686.95 L946.56,686.92 L947.68,686.90 L948.80,686.87 L949.92,686.85 L951.04,686.82 L952.16,686.80 L953.28,686.77 L954.40,686.75" fill="none" stroke="#2d8ff0" stroke-width="2.3" stroke-linejoin="round"/>
<path d="M819.40,707.38 L819.95,716.64 L820.50,723.70 L821.05,729.08 L821.61,733.18 L822.16,736.30 L822.71,738.69 L823.26,740.50 L823.81,741.89 L824.36,742.95 L824.91,743.76 L825.46,744.38 L826.01,744.86 L826.57,745.22 L827.12,745.50 L827.67,745.72 L828.22,745.89 L828.77,746.02 L829.32,746.12 L829.87,746.20 L830.42,746.27 L830.98,746.32 L831.53,746.36 L832.08,746.40 L832.63,746.43 L833.18,746.45 L833.73,746.48 L834.28,746.50 L834.83,746.51 L835.39,746.53 L835.94,746.55 L836.49,746.56 L837.04,746.58 L837.59,746.59 L838.14,746.60 L838.69,746.62 L839.25,746.63 L839.80,746.64 L840.35,746.66 L840.90,746.67 L841.45,746.68 L842.00,746.69 L842.55,746.71 L843.10,746.72 L843.65,746.73 L844.21,746.74 L844.76,746.75 L845.31,746.77 L845.86,746.78 L846.41,746.79 L846.96,746.80 L847.51,746.82 L848.06,746.83 L848.62,746.84 L849.17,746.85 L849.72,746.87 L850.27,746.88 L850.82,746.89 L851.37,746.90 L851.92,746.91 L852.48,746.93 L853.03,746.94 L853.58,746.95 L854.13,746.96 L854.68,746.98 L855.23,746.99 L855.78,747.00 L856.33,747.01 L856.88,747.03 L857.44,747.04 L857.99,747.05 L858.54,747.06 L859.09,747.07 L859.64,747.09 L860.19,747.10 L860.74,747.11 L861.29,747.12 L861.85,747.14 L862.40,747.15 L862.95,747.16 L863.50,747.17 L864.05,747.18 L864.60,747.20 L865.15,747.21 L865.70,747.22 L866.26,747.23 L866.81,747.25 L867.36,747.26 L867.91,747.27 L868.46,747.28 L869.01,747.30 L869.56,747.31 L870.12,747.32 L870.67,747.33 L871.22,747.34 L871.77,747.36 L872.32,747.37 L872.87,747.38 L873.42,747.39 L873.97,747.41 L874.52,747.42 L875.08,747.43 L875.63,747.44 L876.18,747.45 L876.73,747.47 L877.28,747.48 L877.83,747.49 L878.38,747.50 L878.93,747.52 L879.49,747.53 L880.04,747.54 L880.59,747.55 L881.14,747.57 L881.69,747.58 L882.24,747.59 L882.79,747.60 L883.35,747.61 L883.90,747.63 L884.45,747.64 L885.00,747.65 L885.55,747.66 L887.17,698.05 L888.29,695.49 L889.41,693.87 L890.53,692.85 L891.65,692.19 L892.77,691.77 L893.89,691.50 L895.01,691.33 L896.13,691.21 L897.25,691.13 L898.38,691.07 L899.50,691.03 L900.62,691.00 L901.74,690.97 L902.86,690.95 L903.98,690.93 L905.10,690.91 L906.22,690.89 L907.34,690.88 L908.46,690.86 L909.58,690.84 L910.70,690.83 L911.82,690.81 L912.94,690.79 L914.06,690.78 L915.18,690.76 L916.30,690.74 L917.42,690.73 L918.54,690.71 L919.66,690.70 L920.78,690.68 L921.91,690.66 L923.03,690.65 L924.15,690.63 L925.27,690.61 L926.39,690.60 L927.51,690.58 L928.63,690.56 L929.75,690.55 L930.87,690.53 L931.99,690.52 L933.11,690.50 L934.23,690.48 L935.35,690.47 L936.47,690.45 L937.59,690.43 L938.71,690.42 L939.83,690.40 L940.95,690.38 L942.07,690.37 L943.19,690.35 L944.32,690.33 L945.44,690.32 L946.56,690.30 L947.68,690.29 L948.80,690.27 L949.92,690.25 L951.04,690.24 L952.16,690.22 L953.28,690.20 L954.40,690.19" fill="none" stroke="#a866f0" stroke-width="2.3" stroke-linejoin="round"/>
<text transform="translate(837.60,680.40) scale(1,1.05)" font-size="21.0" text-anchor="start" fill="#000" >100</text>
<text transform="translate(873.71,671.60)" font-size="13.6" text-anchor="start" fill="#000" >th</text>
<text transform="translate(890.18,680.40) scale(1,1.05)" font-size="21.0" text-anchor="start" fill="#000" >cycle</text>
<rect x="1054.4" y="655.3" width="134.89999999999986" height="117.30000000000007" fill="#fff" stroke="#000" stroke-width="1.6"/>
<line x1="1050.90" y1="757.94" x2="1054.40" y2="757.94" stroke="#000" stroke-width="1.4" />
<text transform="translate(1048.18,763.94) scale(1,1.04)" font-size="17.3" text-anchor="end" fill="#000" >0.0</text>
<line x1="1052.40" y1="740.83" x2="1054.40" y2="740.83" stroke="#000" stroke-width="1.4" />
<line x1="1050.90" y1="723.73" x2="1054.40" y2="723.73" stroke="#000" stroke-width="1.4" />
<text transform="translate(1048.37,729.73) scale(1,1.04)" font-size="17.3" text-anchor="end" fill="#000" >0.7</text>
<line x1="1052.40" y1="706.62" x2="1054.40" y2="706.62" stroke="#000" stroke-width="1.4" />
<line x1="1050.90" y1="689.51" x2="1054.40" y2="689.51" stroke="#000" stroke-width="1.4" />
<text transform="translate(1048.01,695.51) scale(1,1.04)" font-size="17.3" text-anchor="end" fill="#000" >1.4</text>
<line x1="1052.40" y1="672.41" x2="1054.40" y2="672.41" stroke="#000" stroke-width="1.4" />
<line x1="1050.90" y1="655.30" x2="1054.40" y2="655.30" stroke="#000" stroke-width="1.4" />
<text transform="translate(1048.34,661.30) scale(1,1.04)" font-size="17.3" text-anchor="end" fill="#000" >2.1</text>
<text transform="translate(1010.90,712.90) rotate(-90)" font-size="20.9" text-anchor="middle" fill="#000" >Voltage (V)</text>
<path d="M1054.40,706.62 L1054.95,713.41 L1055.50,718.95 L1056.05,723.47 L1056.60,727.16 L1057.15,730.17 L1057.71,732.63 L1058.26,734.64 L1058.81,736.28 L1059.36,737.62 L1059.91,738.72 L1060.46,739.62 L1061.01,740.36 L1061.56,740.96 L1062.11,741.46 L1062.66,741.87 L1063.21,742.20 L1063.76,742.48 L1064.32,742.71 L1064.87,742.90 L1065.42,743.06 L1065.97,743.20 L1066.52,743.31 L1067.07,743.41 L1067.62,743.49 L1068.17,743.56 L1068.72,743.62 L1069.27,743.68 L1069.82,743.72 L1070.37,743.77 L1070.93,743.81 L1071.48,743.84 L1072.03,743.87 L1072.58,743.90 L1073.13,743.93 L1073.68,743.96 L1074.23,743.98 L1074.78,744.01 L1075.33,744.03 L1075.88,744.06 L1076.43,744.08 L1076.98,744.10 L1077.54,744.12 L1078.09,744.15 L1078.64,744.17 L1079.19,744.19 L1079.74,744.21 L1080.29,744.23 L1080.84,744.25 L1081.39,744.27 L1081.94,744.29 L1082.49,744.31 L1083.04,744.33 L1083.59,744.35 L1084.15,744.37 L1084.70,744.39 L1085.25,744.42 L1085.80,744.44 L1086.35,744.46 L1086.90,744.48 L1087.45,744.50 L1088.00,744.52 L1088.55,744.54 L1089.10,744.56 L1089.65,744.58 L1090.20,744.60 L1090.76,744.62 L1091.31,744.64 L1091.86,744.66 L1092.41,744.68 L1092.96,744.70 L1093.51,744.72 L1094.06,744.74 L1094.61,744.76 L1095.16,744.78 L1095.71,744.80 L1096.26,744.82 L1096.81,744.84 L1097.37,744.86 L1097.92,744.88 L1098.47,744.90 L1099.02,744.92 L1099.57,744.94 L1100.12,744.97 L1100.67,744.99 L1101.22,745.01 L1101.77,745.03 L1102.32,745.05 L1102.87,745.07 L1103.42,745.09 L1103.98,745.11 L1104.53,745.13 L1105.08,745.15 L1105.63,745.17 L1106.18,745.19 L1106.73,745.21 L1107.28,745.23 L1107.83,745.25 L1108.38,745.27 L1108.93,745.29 L1109.48,745.31 L1110.04,745.33 L1110.59,745.35 L1111.14,745.37 L1111.69,745.39 L1112.24,745.41 L1112.79,745.43 L1113.34,745.45 L1113.89,745.47 L1114.44,745.49 L1114.99,745.52 L1115.54,745.54 L1116.09,745.56 L1116.65,745.58 L1117.20,745.60 L1117.75,745.62 L1118.30,745.64 L1118.85,745.66 L1119.40,745.68 L1119.95,745.70 L1120.50,745.72 L1122.12,693.91 L1123.24,691.37 L1124.36,689.76 L1125.48,688.74 L1126.60,688.09 L1127.72,687.67 L1128.84,687.40 L1129.96,687.23 L1131.08,687.11 L1132.20,687.03 L1133.32,686.97 L1134.44,686.93 L1135.56,686.90 L1136.68,686.87 L1137.80,686.85 L1138.91,686.83 L1140.03,686.81 L1141.15,686.79 L1142.27,686.78 L1143.39,686.76 L1144.51,686.74 L1145.63,686.73 L1146.75,686.71 L1147.87,686.69 L1148.99,686.68 L1150.11,686.66 L1151.23,686.65 L1152.35,686.63 L1153.47,686.61 L1154.59,686.60 L1155.71,686.58 L1156.83,686.56 L1157.95,686.55 L1159.07,686.53 L1160.19,686.51 L1161.31,686.50 L1162.43,686.48 L1163.55,686.47 L1164.67,686.45 L1165.79,686.43 L1166.91,686.42 L1168.03,686.40 L1169.15,686.38 L1170.27,686.37 L1171.39,686.35 L1172.50,686.34 L1173.62,686.32 L1174.74,686.30 L1175.86,686.29 L1176.98,686.27 L1178.10,686.25 L1179.22,686.24 L1180.34,686.22 L1181.46,686.21 L1182.58,686.19 L1183.70,686.17 L1184.82,686.16 L1185.94,686.14 L1187.06,686.12 L1188.18,686.11 L1189.30,686.09" fill="none" stroke="#2d8ff0" stroke-width="2.3" stroke-linejoin="round"/>
<path d="M1054.40,706.62 L1054.95,716.07 L1055.50,723.27 L1056.05,728.76 L1056.60,732.95 L1057.15,736.14 L1057.71,738.57 L1058.26,740.43 L1058.81,741.85 L1059.36,742.94 L1059.91,743.77 L1060.46,744.40 L1061.01,744.89 L1061.56,745.27 L1062.11,745.56 L1062.66,745.78 L1063.21,745.96 L1063.76,746.10 L1064.32,746.21 L1064.87,746.29 L1065.42,746.36 L1065.97,746.42 L1066.52,746.47 L1067.07,746.51 L1067.62,746.54 L1068.17,746.57 L1068.72,746.60 L1069.27,746.62 L1069.82,746.64 L1070.37,746.67 L1070.93,746.69 L1071.48,746.70 L1072.03,746.72 L1072.58,746.74 L1073.13,746.76 L1073.68,746.77 L1074.23,746.79 L1074.78,746.81 L1075.33,746.83 L1075.88,746.84 L1076.43,746.86 L1076.98,746.87 L1077.54,746.89 L1078.09,746.91 L1078.64,746.92 L1079.19,746.94 L1079.74,746.96 L1080.29,746.97 L1080.84,746.99 L1081.39,747.01 L1081.94,747.02 L1082.49,747.04 L1083.04,747.05 L1083.59,747.07 L1084.15,747.09 L1084.70,747.10 L1085.25,747.12 L1085.80,747.14 L1086.35,747.15 L1086.90,747.17 L1087.45,747.18 L1088.00,747.20 L1088.55,747.22 L1089.10,747.23 L1089.65,747.25 L1090.20,747.27 L1090.76,747.28 L1091.31,747.30 L1091.86,747.32 L1092.41,747.33 L1092.96,747.35 L1093.51,747.36 L1094.06,747.38 L1094.61,747.40 L1095.16,747.41 L1095.71,747.43 L1096.26,747.45 L1096.81,747.46 L1097.37,747.48 L1097.92,747.49 L1098.47,747.51 L1099.02,747.53 L1099.57,747.54 L1100.12,747.56 L1100.67,747.58 L1101.22,747.59 L1101.77,747.61 L1102.32,747.62 L1102.87,747.64 L1103.42,747.66 L1103.98,747.67 L1104.53,747.69 L1105.08,747.71 L1105.63,747.72 L1106.18,747.74 L1106.73,747.76 L1107.28,747.77 L1107.83,747.79 L1108.38,747.80 L1108.93,747.82 L1109.48,747.84 L1110.04,747.85 L1110.59,747.87 L1111.14,747.89 L1111.69,747.90 L1112.24,747.92 L1112.79,747.93 L1113.34,747.95 L1113.89,747.97 L1114.44,747.98 L1114.99,748.00 L1115.54,748.02 L1116.09,748.03 L1116.65,748.05 L1117.20,748.06 L1117.75,748.08 L1118.30,748.10 L1118.85,748.11 L1119.40,748.13 L1119.95,748.15 L1120.50,748.16 L1122.12,693.91 L1123.24,691.37 L1124.36,689.76 L1125.48,688.74 L1126.60,688.09 L1127.72,687.67 L1128.84,687.40 L1129.96,687.23 L1131.08,687.11 L1132.20,687.03 L1133.32,686.97 L1134.44,686.93 L1135.56,686.90 L1136.68,686.87 L1137.80,686.85 L1138.91,686.83 L1140.03,686.81 L1141.15,686.79 L1142.27,686.78 L1143.39,686.76 L1144.51,686.74 L1145.63,686.73 L1146.75,686.71 L1147.87,686.69 L1148.99,686.68 L1150.11,686.66 L1151.23,686.65 L1152.35,686.63 L1153.47,686.61 L1154.59,686.60 L1155.71,686.58 L1156.83,686.56 L1157.95,686.55 L1159.07,686.53 L1160.19,686.51 L1161.31,686.50 L1162.43,686.48 L1163.55,686.47 L1164.67,686.45 L1165.79,686.43 L1166.91,686.42 L1168.03,686.40 L1169.15,686.38 L1170.27,686.37 L1171.39,686.35 L1172.50,686.34 L1173.62,686.32 L1174.74,686.30 L1175.86,686.29 L1176.98,686.27 L1178.10,686.25 L1179.22,686.24 L1180.34,686.22 L1181.46,686.21 L1182.58,686.19 L1183.70,686.17 L1184.82,686.16 L1185.94,686.14 L1187.06,686.12 L1188.18,686.11 L1189.30,686.09" fill="none" stroke="#a866f0" stroke-width="2.3" stroke-linejoin="round"/>
<text transform="translate(1071.20,680.20) scale(1,1.05)" font-size="21.0" text-anchor="start" fill="#000" >300</text>
<text transform="translate(1107.31,671.40)" font-size="13.6" text-anchor="start" fill="#000" >th</text>
<text transform="translate(1123.78,680.20) scale(1,1.05)" font-size="21.0" text-anchor="start" fill="#000" >cycle</text>
<rect x="1294.8" y="656.1" width="134.9000000000001" height="117.60000000000002" fill="#fff" stroke="#000" stroke-width="1.6"/>
<line x1="1291.30" y1="759.00" x2="1294.80" y2="759.00" stroke="#000" stroke-width="1.4" />
<text transform="translate(1291.58,765.00) scale(1,1.04)" font-size="17.3" text-anchor="end" fill="#000" >0.0</text>
<line x1="1292.80" y1="741.85" x2="1294.80" y2="741.85" stroke="#000" stroke-width="1.4" />
<line x1="1291.30" y1="724.70" x2="1294.80" y2="724.70" stroke="#000" stroke-width="1.4" />
<text transform="translate(1291.77,730.70) scale(1,1.04)" font-size="17.3" text-anchor="end" fill="#000" >0.7</text>
<line x1="1292.80" y1="707.55" x2="1294.80" y2="707.55" stroke="#000" stroke-width="1.4" />
<line x1="1291.30" y1="690.40" x2="1294.80" y2="690.40" stroke="#000" stroke-width="1.4" />
<text transform="translate(1291.41,696.40) scale(1,1.04)" font-size="17.3" text-anchor="end" fill="#000" >1.4</text>
<line x1="1292.80" y1="673.25" x2="1294.80" y2="673.25" stroke="#000" stroke-width="1.4" />
<line x1="1291.30" y1="656.10" x2="1294.80" y2="656.10" stroke="#000" stroke-width="1.4" />
<text transform="translate(1291.74,662.10) scale(1,1.04)" font-size="17.3" text-anchor="end" fill="#000" >2.1</text>
<text transform="translate(1249.00,710.20) rotate(-90)" font-size="20.9" text-anchor="middle" fill="#000" >Voltage (V)</text>
<path d="M1294.80,700.20 L1295.36,711.79 L1295.91,720.60 L1296.47,727.30 L1297.03,732.40 L1297.58,736.28 L1298.14,739.24 L1298.70,741.50 L1299.25,743.23 L1299.81,744.55 L1300.36,745.56 L1300.92,746.34 L1301.48,746.94 L1302.03,747.41 L1302.59,747.77 L1303.15,748.06 L1303.70,748.28 L1304.26,748.47 L1304.82,748.61 L1305.37,748.74 L1305.93,748.84 L1306.49,748.93 L1307.04,749.01 L1307.60,749.07 L1308.16,749.13 L1308.71,749.19 L1309.27,749.24 L1309.82,749.29 L1310.38,749.34 L1310.94,749.39 L1311.49,749.43 L1312.05,749.48 L1312.61,749.52 L1313.16,749.56 L1313.72,749.60 L1314.28,749.65 L1314.83,749.69 L1315.39,749.73 L1315.95,749.77 L1316.50,749.81 L1317.06,749.85 L1317.61,749.89 L1318.17,749.93 L1318.73,749.98 L1319.28,750.02 L1319.84,750.06 L1320.40,750.10 L1320.95,750.14 L1321.51,750.18 L1322.07,750.22 L1322.62,750.26 L1323.18,750.30 L1323.74,750.34 L1324.29,750.38 L1324.85,750.42 L1325.41,750.47 L1325.96,750.51 L1326.52,750.55 L1327.07,750.59 L1327.63,750.63 L1328.19,750.67 L1328.74,750.71 L1329.30,750.75 L1329.86,750.79 L1330.41,750.83 L1330.97,750.87 L1331.53,750.91 L1332.08,750.96 L1332.64,751.00 L1333.20,751.04 L1333.75,751.08 L1334.31,751.12 L1334.87,751.16 L1335.42,751.20 L1335.98,751.24 L1336.53,751.28 L1337.09,751.32 L1337.65,751.36 L1338.20,751.40 L1338.76,751.45 L1339.32,751.49 L1339.87,751.53 L1340.43,751.57 L1340.99,751.61 L1341.54,751.65 L1342.10,751.69 L1342.66,751.73 L1343.21,751.77 L1343.77,751.81 L1344.33,751.85 L1344.88,751.89 L1345.44,751.94 L1345.99,751.98 L1346.55,752.02 L1347.11,752.06 L1347.66,752.10 L1348.22,752.14 L1348.78,752.18 L1349.33,752.22 L1349.89,752.26 L1350.45,752.30 L1351.00,752.34 L1351.56,752.38 L1352.12,752.43 L1352.67,752.47 L1353.23,752.51 L1353.79,752.55 L1354.34,752.59 L1354.90,752.63 L1355.45,752.67 L1356.01,752.71 L1356.57,752.75 L1357.12,752.79 L1357.68,752.83 L1358.24,752.87 L1358.79,752.92 L1359.35,752.96 L1359.91,753.00 L1360.46,753.04 L1361.02,753.08 L1361.58,753.12 L1363.19,692.36 L1364.30,689.81 L1365.41,688.19 L1366.52,687.15 L1367.63,686.47 L1368.74,686.04 L1369.84,685.75 L1370.95,685.55 L1372.06,685.42 L1373.17,685.32 L1374.28,685.24 L1375.39,685.19 L1376.50,685.14 L1377.60,685.09 L1378.71,685.05 L1379.82,685.02 L1380.93,684.98 L1382.04,684.95 L1383.15,684.91 L1384.25,684.88 L1385.36,684.85 L1386.47,684.81 L1387.58,684.78 L1388.69,684.75 L1389.80,684.72 L1390.91,684.68 L1392.01,684.65 L1393.12,684.62 L1394.23,684.59 L1395.34,684.55 L1396.45,684.52 L1397.56,684.49 L1398.66,684.45 L1399.77,684.42 L1400.88,684.39 L1401.99,684.36 L1403.10,684.32 L1404.21,684.29 L1405.31,684.26 L1406.42,684.23 L1407.53,684.19 L1408.64,684.16 L1409.75,684.13 L1410.86,684.10 L1411.97,684.06 L1413.07,684.03 L1414.18,684.00 L1415.29,683.96 L1416.40,683.93 L1417.51,683.90 L1418.62,683.87 L1419.72,683.83 L1420.83,683.80 L1421.94,683.77 L1423.05,683.74 L1424.16,683.70 L1425.27,683.67 L1426.37,683.64 L1427.48,683.61 L1428.59,683.57 L1429.70,683.54" fill="none" stroke="#2d8ff0" stroke-width="2.3" stroke-linejoin="round"/>
<path d="M1294.80,700.20 L1295.36,711.78 L1295.91,720.59 L1296.47,727.29 L1297.03,732.38 L1297.58,736.26 L1298.14,739.22 L1298.70,741.47 L1299.25,743.19 L1299.81,744.51 L1300.36,745.52 L1300.92,746.29 L1301.48,746.89 L1302.03,747.35 L1302.59,747.71 L1303.15,748.00 L1303.70,748.22 L1304.26,748.40 L1304.82,748.54 L1305.37,748.66 L1305.93,748.76 L1306.49,748.84 L1307.04,748.92 L1307.60,748.98 L1308.16,749.04 L1308.71,749.09 L1309.27,749.14 L1309.82,749.18 L1310.38,749.23 L1310.94,749.27 L1311.49,749.31 L1312.05,749.35 L1312.61,749.39 L1313.16,749.43 L1313.72,749.47 L1314.28,749.50 L1314.83,749.54 L1315.39,749.58 L1315.95,749.62 L1316.50,749.65 L1317.06,749.69 L1317.61,749.73 L1318.17,749.76 L1318.73,749.80 L1319.28,749.84 L1319.84,749.87 L1320.40,749.91 L1320.95,749.95 L1321.51,749.98 L1322.07,750.02 L1322.62,750.06 L1323.18,750.09 L1323.74,750.13 L1324.29,750.17 L1324.85,750.20 L1325.41,750.24 L1325.96,750.28 L1326.52,750.31 L1327.07,750.35 L1327.63,750.39 L1328.19,750.42 L1328.74,750.46 L1329.30,750.50 L1329.86,750.54 L1330.41,750.57 L1330.97,750.61 L1331.53,750.65 L1332.08,750.68 L1332.64,750.72 L1333.20,750.76 L1333.75,750.79 L1334.31,750.83 L1334.87,750.87 L1335.42,750.90 L1335.98,750.94 L1336.53,750.98 L1337.09,751.01 L1337.65,751.05 L1338.20,751.09 L1338.76,751.12 L1339.32,751.16 L1339.87,751.20 L1340.43,751.23 L1340.99,751.27 L1341.54,751.31 L1342.10,751.34 L1342.66,751.38 L1343.21,751.42 L1343.77,751.45 L1344.33,751.49 L1344.88,751.53 L1345.44,751.56 L1345.99,751.60 L1346.55,751.64 L1347.11,751.67 L1347.66,751.71 L1348.22,751.75 L1348.78,751.78 L1349.33,751.82 L1349.89,751.86 L1350.45,751.89 L1351.00,751.93 L1351.56,751.97 L1352.12,752.01 L1352.67,752.04 L1353.23,752.08 L1353.79,752.12 L1354.34,752.15 L1354.90,752.19 L1355.45,752.23 L1356.01,752.26 L1356.57,752.30 L1357.12,752.34 L1357.68,752.37 L1358.24,752.41 L1358.79,752.45 L1359.35,752.48 L1359.91,752.52 L1360.46,752.56 L1361.02,752.59 L1361.58,752.63 L1363.19,688.93 L1364.30,686.36 L1365.41,684.71 L1366.52,683.64 L1367.63,682.95 L1368.74,682.48 L1369.84,682.17 L1370.95,681.95 L1372.06,681.79 L1373.17,681.67 L1374.28,681.57 L1375.39,681.49 L1376.50,681.41 L1377.60,681.34 L1378.71,681.28 L1379.82,681.22 L1380.93,681.16 L1382.04,681.10 L1383.15,681.04 L1384.25,680.99 L1385.36,680.93 L1386.47,680.87 L1387.58,680.81 L1388.69,680.76 L1389.80,680.70 L1390.91,680.64 L1392.01,680.58 L1393.12,680.53 L1394.23,680.47 L1395.34,680.41 L1396.45,680.36 L1397.56,680.30 L1398.66,680.24 L1399.77,680.18 L1400.88,680.13 L1401.99,680.07 L1403.10,680.01 L1404.21,679.95 L1405.31,679.90 L1406.42,679.84 L1407.53,679.78 L1408.64,679.73 L1409.75,679.67 L1410.86,679.61 L1411.97,679.55 L1413.07,679.50 L1414.18,679.44 L1415.29,679.38 L1416.40,679.33 L1417.51,679.27 L1418.62,679.21 L1419.72,679.15 L1420.83,679.10 L1421.94,679.04 L1423.05,678.98 L1424.16,678.93 L1425.27,678.87 L1426.37,678.81 L1427.48,678.75 L1428.59,678.70 L1429.70,678.64" fill="none" stroke="#a866f0" stroke-width="2.3" stroke-linejoin="round"/>
<text transform="translate(1311.96,676.80) scale(1,1.05)" font-size="21.0" text-anchor="start" fill="#000" >566</text>
<text transform="translate(1347.97,668.00)" font-size="13.6" text-anchor="start" fill="#000" >th</text>
<text transform="translate(1364.43,676.80) scale(1,1.05)" font-size="21.0" text-anchor="start" fill="#000" >cycle</text>
</svg></body></html>
